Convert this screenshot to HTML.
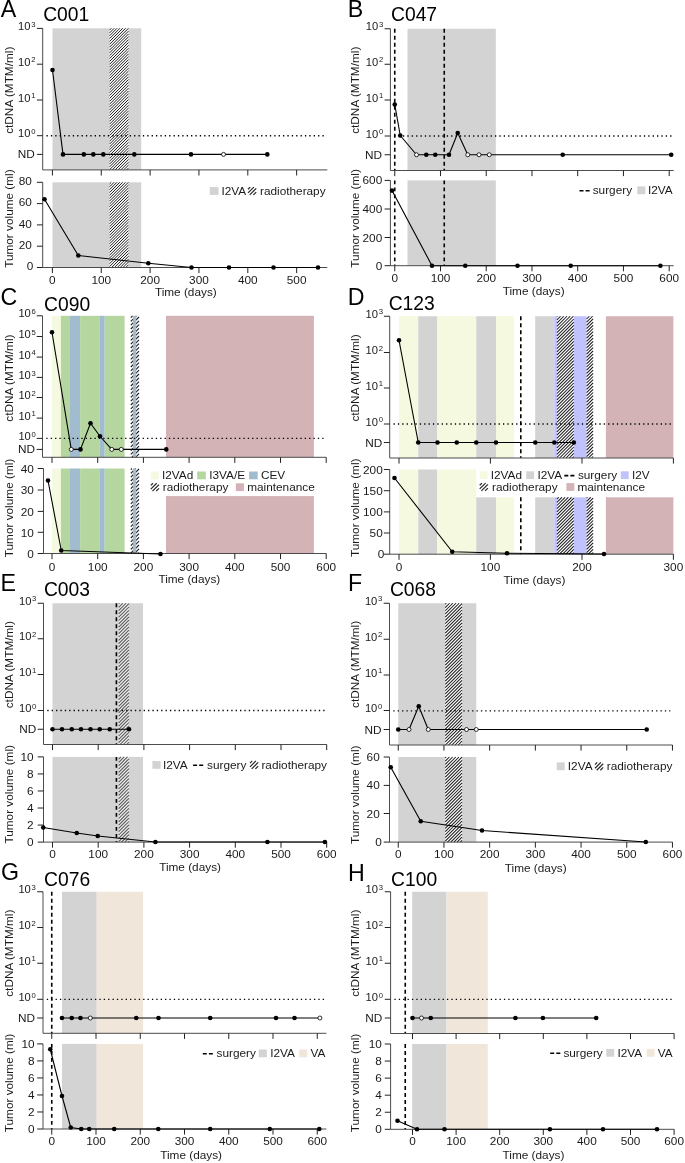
<!DOCTYPE html>
<html><head><meta charset="utf-8"><title>Figure</title>
<style>
html,body{margin:0;padding:0;background:#fff;}
body{width:685px;height:1163px;overflow:hidden;}
svg{display:block;font-family:"Liberation Sans", sans-serif;will-change:transform;}
</style></head><body>
<svg width="685" height="1163" viewBox="0 0 685 1163">
<rect width="685" height="1163" fill="#fff"/>
<defs>
<pattern id="h1" patternUnits="userSpaceOnUse" width="2.85" height="2.85">
<path d="M-0.7,0.7 L0.7,-0.7 M0,2.85 L2.85,0 M2.15,3.55 L3.55,2.15" stroke="#1a1a1a" stroke-width="0.95"/>
</pattern>
<pattern id="h2" patternUnits="userSpaceOnUse" width="3.3" height="3.3">
<path d="M-0.7,0.7 L0.7,-0.7 M0,3.3 L3.3,0 M2.6,4 L4,2.6" stroke="#555" stroke-width="0.8"/>
</pattern>
</defs>
<text transform="translate(0.8,17.3)" font-size="23.2" text-anchor="start" fill="#000">A</text>
<text transform="translate(43.2,20.9)" font-size="19.3" text-anchor="start" fill="#000">C001</text>
<rect x="52.5" y="28.3" width="88.7" height="141.6" fill="#d3d3d3"/>
<rect x="52.5" y="182.3" width="88.7" height="85.2" fill="#d3d3d3"/>
<rect x="109.6" y="28.3" width="18.9" height="141.6" fill="#fff"/>
<path d="M109.6,30.05L111.35,28.3M109.6,32.9L114.2,28.3M109.6,35.75L117.05,28.3M109.6,38.6L119.9,28.3M109.6,41.45L122.75,28.3M109.6,44.3L125.6,28.3M109.6,47.15L128.45,28.3M109.6,50L128.5,31.1M109.6,52.85L128.5,33.95M109.6,55.7L128.5,36.8M109.6,58.55L128.5,39.65M109.6,61.4L128.5,42.5M109.6,64.25L128.5,45.35M109.6,67.1L128.5,48.2M109.6,69.95L128.5,51.05M109.6,72.8L128.5,53.9M109.6,75.65L128.5,56.75M109.6,78.5L128.5,59.6M109.6,81.35L128.5,62.45M109.6,84.2L128.5,65.3M109.6,87.05L128.5,68.15M109.6,89.9L128.5,71M109.6,92.75L128.5,73.85M109.6,95.6L128.5,76.7M109.6,98.45L128.5,79.55M109.6,101.3L128.5,82.4M109.6,104.15L128.5,85.25M109.6,107L128.5,88.1M109.6,109.85L128.5,90.95M109.6,112.7L128.5,93.8M109.6,115.55L128.5,96.65M109.6,118.4L128.5,99.5M109.6,121.25L128.5,102.35M109.6,124.1L128.5,105.2M109.6,126.95L128.5,108.05M109.6,129.8L128.5,110.9M109.6,132.65L128.5,113.75M109.6,135.5L128.5,116.6M109.6,138.35L128.5,119.45M109.6,141.2L128.5,122.3M109.6,144.05L128.5,125.15M109.6,146.9L128.5,128M109.6,149.75L128.5,130.85M109.6,152.6L128.5,133.7M109.6,155.45L128.5,136.55M109.6,158.3L128.5,139.4M109.6,161.15L128.5,142.25M109.6,164L128.5,145.1M109.6,166.85L128.5,147.95M109.6,169.7L128.5,150.8M112.25,169.9L128.5,153.65M115.1,169.9L128.5,156.5M117.95,169.9L128.5,159.35M120.8,169.9L128.5,162.2M123.65,169.9L128.5,165.05M126.5,169.9L128.5,167.9" stroke="#1a1a1a" stroke-width="1" fill="none"/>
<rect x="109.6" y="182.3" width="18.9" height="85.2" fill="#fff"/>
<path d="M109.6,183.95L111.25,182.3M109.6,186.8L114.1,182.3M109.6,189.65L116.95,182.3M109.6,192.5L119.8,182.3M109.6,195.35L122.65,182.3M109.6,198.2L125.5,182.3M109.6,201.05L128.35,182.3M109.6,203.9L128.5,185M109.6,206.75L128.5,187.85M109.6,209.6L128.5,190.7M109.6,212.45L128.5,193.55M109.6,215.3L128.5,196.4M109.6,218.15L128.5,199.25M109.6,221L128.5,202.1M109.6,223.85L128.5,204.95M109.6,226.7L128.5,207.8M109.6,229.55L128.5,210.65M109.6,232.4L128.5,213.5M109.6,235.25L128.5,216.35M109.6,238.1L128.5,219.2M109.6,240.95L128.5,222.05M109.6,243.8L128.5,224.9M109.6,246.65L128.5,227.75M109.6,249.5L128.5,230.6M109.6,252.35L128.5,233.45M109.6,255.2L128.5,236.3M109.6,258.05L128.5,239.15M109.6,260.9L128.5,242M109.6,263.75L128.5,244.85M109.6,266.6L128.5,247.7M111.55,267.5L128.5,250.55M114.4,267.5L128.5,253.4M117.25,267.5L128.5,256.25M120.1,267.5L128.5,259.1M122.95,267.5L128.5,261.95M125.8,267.5L128.5,264.8" stroke="#1a1a1a" stroke-width="1" fill="none"/>
<line x1="46.5" y1="135.7" x2="324.5" y2="135.7" stroke="#000" stroke-width="1.35" stroke-linecap="butt" stroke-dasharray="1.3,3.08"/>
<path d="M42.7,28.3 V169.9 H327.3" fill="none" stroke="#4c4c4c" stroke-width="1.0" stroke-linejoin="round"/>
<path d="M42.7,182.3 V267.5 H327.3" fill="none" stroke="#4c4c4c" stroke-width="1.0" stroke-linejoin="round"/>
<line x1="36.9" y1="28.4" x2="42.7" y2="28.4" stroke="#222222" stroke-width="1" stroke-linecap="butt"/>
<line x1="36.9" y1="64.2" x2="42.7" y2="64.2" stroke="#222222" stroke-width="1" stroke-linecap="butt"/>
<line x1="36.9" y1="100" x2="42.7" y2="100" stroke="#222222" stroke-width="1" stroke-linecap="butt"/>
<line x1="36.9" y1="135.7" x2="42.7" y2="135.7" stroke="#222222" stroke-width="1" stroke-linecap="butt"/>
<line x1="36.9" y1="154.4" x2="42.7" y2="154.4" stroke="#222222" stroke-width="1" stroke-linecap="butt"/>
<line x1="36.9" y1="182.3" x2="42.7" y2="182.3" stroke="#222222" stroke-width="1" stroke-linecap="butt"/>
<line x1="36.9" y1="203.6" x2="42.7" y2="203.6" stroke="#222222" stroke-width="1" stroke-linecap="butt"/>
<line x1="36.9" y1="224.9" x2="42.7" y2="224.9" stroke="#222222" stroke-width="1" stroke-linecap="butt"/>
<line x1="36.9" y1="246.2" x2="42.7" y2="246.2" stroke="#222222" stroke-width="1" stroke-linecap="butt"/>
<line x1="36.9" y1="267.5" x2="42.7" y2="267.5" stroke="#222222" stroke-width="1" stroke-linecap="butt"/>
<line x1="52.4" y1="169.9" x2="52.4" y2="175.5" stroke="#222222" stroke-width="1" stroke-linecap="butt"/>
<line x1="52.4" y1="267.5" x2="52.4" y2="273.1" stroke="#222222" stroke-width="1" stroke-linecap="butt"/>
<line x1="101.25" y1="169.9" x2="101.25" y2="175.5" stroke="#222222" stroke-width="1" stroke-linecap="butt"/>
<line x1="101.25" y1="267.5" x2="101.25" y2="273.1" stroke="#222222" stroke-width="1" stroke-linecap="butt"/>
<line x1="150.1" y1="169.9" x2="150.1" y2="175.5" stroke="#222222" stroke-width="1" stroke-linecap="butt"/>
<line x1="150.1" y1="267.5" x2="150.1" y2="273.1" stroke="#222222" stroke-width="1" stroke-linecap="butt"/>
<line x1="198.95" y1="169.9" x2="198.95" y2="175.5" stroke="#222222" stroke-width="1" stroke-linecap="butt"/>
<line x1="198.95" y1="267.5" x2="198.95" y2="273.1" stroke="#222222" stroke-width="1" stroke-linecap="butt"/>
<line x1="247.8" y1="169.9" x2="247.8" y2="175.5" stroke="#222222" stroke-width="1" stroke-linecap="butt"/>
<line x1="247.8" y1="267.5" x2="247.8" y2="273.1" stroke="#222222" stroke-width="1" stroke-linecap="butt"/>
<line x1="296.65" y1="169.9" x2="296.65" y2="175.5" stroke="#222222" stroke-width="1" stroke-linecap="butt"/>
<line x1="296.65" y1="267.5" x2="296.65" y2="273.1" stroke="#222222" stroke-width="1" stroke-linecap="butt"/>
<polyline points="52.5,70 63,154.4 83.8,154.4 93.3,154.4 103.3,154.4 134.3,154.4 191,154.4 223.5,154.4 267.3,154.4" fill="none" stroke="#000" stroke-width="1.1" stroke-linejoin="round"/>
<circle cx="52.5" cy="70" r="2.3" fill="#000"/>
<circle cx="63" cy="154.4" r="2.3" fill="#000"/>
<circle cx="83.8" cy="154.4" r="2.3" fill="#000"/>
<circle cx="93.3" cy="154.4" r="2.3" fill="#000"/>
<circle cx="103.3" cy="154.4" r="2.3" fill="#000"/>
<circle cx="134.3" cy="154.4" r="2.3" fill="#000"/>
<circle cx="191" cy="154.4" r="2.3" fill="#000"/>
<circle cx="223.5" cy="154.4" r="2" fill="#fff" stroke="#000" stroke-width="0.8"/>
<circle cx="267.3" cy="154.4" r="2.3" fill="#000"/>
<polyline points="44.5,199.3 78.3,255.5 148.3,263.2 191.5,267.5 229,267.5 273.5,267.5 318,267.5" fill="none" stroke="#000" stroke-width="1.1" stroke-linejoin="round"/>
<circle cx="44.5" cy="199.3" r="2.3" fill="#000"/>
<circle cx="78.3" cy="255.5" r="2.3" fill="#000"/>
<circle cx="148.3" cy="263.2" r="2.3" fill="#000"/>
<circle cx="191.5" cy="267.5" r="2.3" fill="#000"/>
<circle cx="229" cy="267.5" r="2.3" fill="#000"/>
<circle cx="273.5" cy="267.5" r="2.3" fill="#000"/>
<circle cx="318" cy="267.5" r="2.3" fill="#000"/>
<text transform="translate(35.5,30)" font-size="11.2" text-anchor="end" fill="#1a1a1a">10<tspan font-size="7.7" dx="0.7" dy="-3.4">3</tspan></text>
<text transform="translate(35.5,65.8)" font-size="11.2" text-anchor="end" fill="#1a1a1a">10<tspan font-size="7.7" dx="0.7" dy="-3.4">2</tspan></text>
<text transform="translate(35.5,101.6)" font-size="11.2" text-anchor="end" fill="#1a1a1a">10<tspan font-size="7.7" dx="0.7" dy="-3.4">1</tspan></text>
<text transform="translate(35.5,137.3)" font-size="11.2" text-anchor="end" fill="#1a1a1a">10<tspan font-size="7.7" dx="0.7" dy="-3.4">0</tspan></text>
<text transform="translate(34.8,158.4)" font-size="11.8" text-anchor="end" fill="#1a1a1a">ND</text>
<text transform="translate(31.8,185.1)" font-size="11.8" text-anchor="end" fill="#1a1a1a">80</text>
<text transform="translate(31.8,206.4)" font-size="11.8" text-anchor="end" fill="#1a1a1a">60</text>
<text transform="translate(31.8,227.7)" font-size="11.8" text-anchor="end" fill="#1a1a1a">40</text>
<text transform="translate(31.8,249)" font-size="11.8" text-anchor="end" fill="#1a1a1a">20</text>
<text transform="translate(33.3,270.3)" font-size="11.8" text-anchor="end" fill="#1a1a1a">0</text>
<text transform="translate(52.4,283.8)" font-size="11.8" text-anchor="middle" fill="#1a1a1a">0</text>
<text transform="translate(101.25,283.8)" font-size="11.8" text-anchor="middle" fill="#1a1a1a">100</text>
<text transform="translate(150.1,283.8)" font-size="11.8" text-anchor="middle" fill="#1a1a1a">200</text>
<text transform="translate(198.95,283.8)" font-size="11.8" text-anchor="middle" fill="#1a1a1a">300</text>
<text transform="translate(247.8,283.8)" font-size="11.8" text-anchor="middle" fill="#1a1a1a">400</text>
<text transform="translate(296.65,283.8)" font-size="11.8" text-anchor="middle" fill="#1a1a1a">500</text>
<text transform="translate(185.8,296)" font-size="11.8" text-anchor="middle" fill="#1a1a1a">Time (days)</text>
<text transform="translate(13.2,90.25) rotate(-90)" font-size="11.8" text-anchor="middle" fill="#1a1a1a">ctDNA (MTM/ml)</text>
<text transform="translate(13.2,218.6) rotate(-90)" font-size="11.8" text-anchor="middle" fill="#1a1a1a">Tumor volume (ml)</text>
<rect x="209.8" y="187.1" width="8.7" height="7.8" fill="#d3d3d3"/>
<text transform="translate(221.4,194.9)" font-size="11.8" text-anchor="start" fill="#1a1a1a">I2VA</text>
<path d="M248,189.25L250.2,187.05M248,192.95L253.9,187.05M249.7,194.95L256.2,188.45M253.4,194.95L256.2,192.15" stroke="#262626" stroke-width="1.2" fill="none"/>
<text transform="translate(260,194.9)" font-size="11.8" text-anchor="start" fill="#1a1a1a">radiotherapy</text>
<text transform="translate(347.75,17.1)" font-size="23.2" text-anchor="start" fill="#000">B</text>
<text transform="translate(391,20.9)" font-size="19.3" text-anchor="start" fill="#000">C047</text>
<rect x="407.5" y="28.75" width="88.3" height="141.75" fill="#d3d3d3"/>
<rect x="407.5" y="180.4" width="88.3" height="85.3" fill="#d3d3d3"/>
<line x1="394.2" y1="136" x2="672.5" y2="136" stroke="#000" stroke-width="1.35" stroke-linecap="butt" stroke-dasharray="1.3,3.08"/>
<line x1="394.75" y1="28.75" x2="394.75" y2="170.5" stroke="#000" stroke-width="1.6" stroke-linecap="butt" stroke-dasharray="3.9,3.1"/>
<line x1="394.75" y1="180.4" x2="394.75" y2="265.7" stroke="#000" stroke-width="1.6" stroke-linecap="butt" stroke-dasharray="3.9,3.1"/>
<line x1="444.25" y1="28.75" x2="444.25" y2="170.5" stroke="#000" stroke-width="1.6" stroke-linecap="butt" stroke-dasharray="3.9,3.1"/>
<line x1="444.25" y1="180.4" x2="444.25" y2="265.7" stroke="#000" stroke-width="1.6" stroke-linecap="butt" stroke-dasharray="3.9,3.1"/>
<path d="M390.4,28.75 V170.5 H673.7" fill="none" stroke="#4c4c4c" stroke-width="1.0" stroke-linejoin="round"/>
<path d="M390.4,180.4 V265.7 H673.7" fill="none" stroke="#4c4c4c" stroke-width="1.0" stroke-linejoin="round"/>
<line x1="384.6" y1="28.75" x2="390.4" y2="28.75" stroke="#222222" stroke-width="1" stroke-linecap="butt"/>
<line x1="384.6" y1="64.25" x2="390.4" y2="64.25" stroke="#222222" stroke-width="1" stroke-linecap="butt"/>
<line x1="384.6" y1="100" x2="390.4" y2="100" stroke="#222222" stroke-width="1" stroke-linecap="butt"/>
<line x1="384.6" y1="136" x2="390.4" y2="136" stroke="#222222" stroke-width="1" stroke-linecap="butt"/>
<line x1="384.6" y1="154.75" x2="390.4" y2="154.75" stroke="#222222" stroke-width="1" stroke-linecap="butt"/>
<line x1="384.6" y1="180.4" x2="390.4" y2="180.4" stroke="#222222" stroke-width="1" stroke-linecap="butt"/>
<line x1="384.6" y1="209" x2="390.4" y2="209" stroke="#222222" stroke-width="1" stroke-linecap="butt"/>
<line x1="384.6" y1="237.5" x2="390.4" y2="237.5" stroke="#222222" stroke-width="1" stroke-linecap="butt"/>
<line x1="384.6" y1="265.7" x2="390.4" y2="265.7" stroke="#222222" stroke-width="1" stroke-linecap="butt"/>
<line x1="394.75" y1="170.5" x2="394.75" y2="176.1" stroke="#222222" stroke-width="1" stroke-linecap="butt"/>
<line x1="394.75" y1="265.7" x2="394.75" y2="271.3" stroke="#222222" stroke-width="1" stroke-linecap="butt"/>
<line x1="440.49" y1="170.5" x2="440.49" y2="176.1" stroke="#222222" stroke-width="1" stroke-linecap="butt"/>
<line x1="440.49" y1="265.7" x2="440.49" y2="271.3" stroke="#222222" stroke-width="1" stroke-linecap="butt"/>
<line x1="486.23" y1="170.5" x2="486.23" y2="176.1" stroke="#222222" stroke-width="1" stroke-linecap="butt"/>
<line x1="486.23" y1="265.7" x2="486.23" y2="271.3" stroke="#222222" stroke-width="1" stroke-linecap="butt"/>
<line x1="531.97" y1="170.5" x2="531.97" y2="176.1" stroke="#222222" stroke-width="1" stroke-linecap="butt"/>
<line x1="531.97" y1="265.7" x2="531.97" y2="271.3" stroke="#222222" stroke-width="1" stroke-linecap="butt"/>
<line x1="577.71" y1="170.5" x2="577.71" y2="176.1" stroke="#222222" stroke-width="1" stroke-linecap="butt"/>
<line x1="577.71" y1="265.7" x2="577.71" y2="271.3" stroke="#222222" stroke-width="1" stroke-linecap="butt"/>
<line x1="623.45" y1="170.5" x2="623.45" y2="176.1" stroke="#222222" stroke-width="1" stroke-linecap="butt"/>
<line x1="623.45" y1="265.7" x2="623.45" y2="271.3" stroke="#222222" stroke-width="1" stroke-linecap="butt"/>
<line x1="669.19" y1="170.5" x2="669.19" y2="176.1" stroke="#222222" stroke-width="1" stroke-linecap="butt"/>
<line x1="669.19" y1="265.7" x2="669.19" y2="271.3" stroke="#222222" stroke-width="1" stroke-linecap="butt"/>
<polyline points="394.75,104.5 400.25,135.5 416.5,154.75 426.25,154.75 435.25,154.75 449,154.75 457.75,133 467.75,154.75 479,154.75 489.25,154.75 562.7,154.75 671.2,154.75" fill="none" stroke="#000" stroke-width="1.1" stroke-linejoin="round"/>
<circle cx="394.75" cy="104.5" r="2.3" fill="#000"/>
<circle cx="400.25" cy="135.5" r="2.3" fill="#000"/>
<circle cx="416.5" cy="154.75" r="2" fill="#fff" stroke="#000" stroke-width="0.8"/>
<circle cx="426.25" cy="154.75" r="2.3" fill="#000"/>
<circle cx="435.25" cy="154.75" r="2.3" fill="#000"/>
<circle cx="449" cy="154.75" r="2.3" fill="#000"/>
<circle cx="457.75" cy="133" r="2.3" fill="#000"/>
<circle cx="467.75" cy="154.75" r="2" fill="#fff" stroke="#000" stroke-width="0.8"/>
<circle cx="479" cy="154.75" r="2" fill="#fff" stroke="#000" stroke-width="0.8"/>
<circle cx="489.25" cy="154.75" r="2" fill="#fff" stroke="#000" stroke-width="0.8"/>
<circle cx="562.7" cy="154.75" r="2.3" fill="#000"/>
<circle cx="671.2" cy="154.75" r="2.3" fill="#000"/>
<polyline points="392,190.6 432,265.7 465.25,265.7 517.5,265.7 570.7,265.7 660.4,265.7" fill="none" stroke="#000" stroke-width="1.1" stroke-linejoin="round"/>
<circle cx="392" cy="190.6" r="2.3" fill="#000"/>
<circle cx="432" cy="265.7" r="2.3" fill="#000"/>
<circle cx="465.25" cy="265.7" r="2.3" fill="#000"/>
<circle cx="517.5" cy="265.7" r="2.3" fill="#000"/>
<circle cx="570.7" cy="265.7" r="2.3" fill="#000"/>
<circle cx="660.4" cy="265.7" r="2.3" fill="#000"/>
<text transform="translate(383.2,30.35)" font-size="11.2" text-anchor="end" fill="#1a1a1a">10<tspan font-size="7.7" dx="0.7" dy="-3.4">3</tspan></text>
<text transform="translate(383.2,65.85)" font-size="11.2" text-anchor="end" fill="#1a1a1a">10<tspan font-size="7.7" dx="0.7" dy="-3.4">2</tspan></text>
<text transform="translate(383.2,101.6)" font-size="11.2" text-anchor="end" fill="#1a1a1a">10<tspan font-size="7.7" dx="0.7" dy="-3.4">1</tspan></text>
<text transform="translate(383.2,137.6)" font-size="11.2" text-anchor="end" fill="#1a1a1a">10<tspan font-size="7.7" dx="0.7" dy="-3.4">0</tspan></text>
<text transform="translate(382.1,158.75)" font-size="11.8" text-anchor="end" fill="#1a1a1a">ND</text>
<text transform="translate(382.2,184.4)" font-size="11.8" text-anchor="end" fill="#1a1a1a">600</text>
<text transform="translate(382.2,213)" font-size="11.8" text-anchor="end" fill="#1a1a1a">400</text>
<text transform="translate(382.2,241.5)" font-size="11.8" text-anchor="end" fill="#1a1a1a">200</text>
<text transform="translate(382.2,269.7)" font-size="11.8" text-anchor="end" fill="#1a1a1a">0</text>
<text transform="translate(394.75,282.4)" font-size="11.8" text-anchor="middle" fill="#1a1a1a">0</text>
<text transform="translate(440.49,282.4)" font-size="11.8" text-anchor="middle" fill="#1a1a1a">100</text>
<text transform="translate(486.23,282.4)" font-size="11.8" text-anchor="middle" fill="#1a1a1a">200</text>
<text transform="translate(531.97,282.4)" font-size="11.8" text-anchor="middle" fill="#1a1a1a">300</text>
<text transform="translate(577.71,282.4)" font-size="11.8" text-anchor="middle" fill="#1a1a1a">400</text>
<text transform="translate(623.45,282.4)" font-size="11.8" text-anchor="middle" fill="#1a1a1a">500</text>
<text transform="translate(669.19,282.4)" font-size="11.8" text-anchor="middle" fill="#1a1a1a">600</text>
<text transform="translate(533.65,295.4)" font-size="11.8" text-anchor="middle" fill="#1a1a1a">Time (days)</text>
<text transform="translate(358.8,90.25) rotate(-90)" font-size="11.8" text-anchor="middle" fill="#1a1a1a">ctDNA (MTM/ml)</text>
<text transform="translate(358.8,218.4) rotate(-90)" font-size="11.8" text-anchor="middle" fill="#1a1a1a">Tumor volume (ml)</text>
<line x1="579.5" y1="190.7" x2="589.6" y2="190.7" stroke="#000" stroke-width="1.6" stroke-linecap="butt" stroke-dasharray="4,2.1"/>
<text transform="translate(592.7,194.2)" font-size="11.8" text-anchor="start" fill="#1a1a1a">surgery</text>
<rect x="637.3" y="186.4" width="8" height="7.8" fill="#d3d3d3"/>
<text transform="translate(647.9,194.2)" font-size="11.8" text-anchor="start" fill="#1a1a1a">I2VA</text>
<text transform="translate(0.55,305.2)" font-size="23.2" text-anchor="start" fill="#000">C</text>
<text transform="translate(44.1,311)" font-size="19.3" text-anchor="start" fill="#000">C090</text>
<rect x="52" y="315.8" width="8.9" height="141.5" fill="#f5f9e0"/>
<rect x="52" y="468.5" width="8.9" height="85" fill="#f5f9e0"/>
<rect x="60.9" y="315.8" width="9.1" height="141.5" fill="#b6d6a0"/>
<rect x="60.9" y="468.5" width="9.1" height="85" fill="#b6d6a0"/>
<rect x="70" y="315.8" width="10.1" height="141.5" fill="#a2bccf"/>
<rect x="70" y="468.5" width="10.1" height="85" fill="#a2bccf"/>
<rect x="80.1" y="315.8" width="19.3" height="141.5" fill="#b6d6a0"/>
<rect x="80.1" y="468.5" width="19.3" height="85" fill="#b6d6a0"/>
<rect x="99.4" y="315.8" width="5.3" height="141.5" fill="#a2bccf"/>
<rect x="99.4" y="468.5" width="5.3" height="85" fill="#a2bccf"/>
<rect x="104.7" y="315.8" width="19.9" height="141.5" fill="#b6d6a0"/>
<rect x="104.7" y="468.5" width="19.9" height="85" fill="#b6d6a0"/>
<rect x="130.8" y="315.8" width="8.2" height="141.5" fill="#fff"/>
<path d="M130.8,317.6L132.6,315.8M130.8,321.4L136.4,315.8M130.8,325.2L139,317M130.8,329L139,320.8M130.8,332.8L139,324.6M130.8,336.6L139,328.4M130.8,340.4L139,332.2M130.8,344.2L139,336M130.8,348L139,339.8M130.8,351.8L139,343.6M130.8,355.6L139,347.4M130.8,359.4L139,351.2M130.8,363.2L139,355M130.8,367L139,358.8M130.8,370.8L139,362.6M130.8,374.6L139,366.4M130.8,378.4L139,370.2M130.8,382.2L139,374M130.8,386L139,377.8M130.8,389.8L139,381.6M130.8,393.6L139,385.4M130.8,397.4L139,389.2M130.8,401.2L139,393M130.8,405L139,396.8M130.8,408.8L139,400.6M130.8,412.6L139,404.4M130.8,416.4L139,408.2M130.8,420.2L139,412M130.8,424L139,415.8M130.8,427.8L139,419.6M130.8,431.6L139,423.4M130.8,435.4L139,427.2M130.8,439.2L139,431M130.8,443L139,434.8M130.8,446.8L139,438.6M130.8,450.6L139,442.4M130.8,454.4L139,446.2M131.7,457.3L139,450M135.5,457.3L139,453.8" stroke="#1a1a1a" stroke-width="1.1" fill="none"/>
<rect x="130.8" y="468.5" width="8.2" height="85" fill="#fff"/>
<path d="M130.8,469.6L131.9,468.5M130.8,473.4L135.7,468.5M130.8,477.2L139,469M130.8,481L139,472.8M130.8,484.8L139,476.6M130.8,488.6L139,480.4M130.8,492.4L139,484.2M130.8,496.2L139,488M130.8,500L139,491.8M130.8,503.8L139,495.6M130.8,507.6L139,499.4M130.8,511.4L139,503.2M130.8,515.2L139,507M130.8,519L139,510.8M130.8,522.8L139,514.6M130.8,526.6L139,518.4M130.8,530.4L139,522.2M130.8,534.2L139,526M130.8,538L139,529.8M130.8,541.8L139,533.6M130.8,545.6L139,537.4M130.8,549.4L139,541.2M130.8,553.2L139,545M134.3,553.5L139,548.8M138.1,553.5L139,552.6" stroke="#1a1a1a" stroke-width="1.1" fill="none"/>
<rect x="132.9" y="315.8" width="3.3" height="141.5" fill="#a2bccf"/>
<rect x="132.9" y="468.5" width="3.3" height="85" fill="#a2bccf"/>
<rect x="166" y="315.8" width="147.9" height="141.5" fill="#d3b3b5"/>
<rect x="166" y="496.1" width="147.9" height="57.4" fill="#d3b3b5"/>
<line x1="46.3" y1="438.4" x2="324" y2="438.4" stroke="#000" stroke-width="1.35" stroke-linecap="butt" stroke-dasharray="1.3,3.08"/>
<path d="M42.5,315.8 V457.3 H326.2" fill="none" stroke="#4c4c4c" stroke-width="1.0" stroke-linejoin="round"/>
<path d="M43.5,468.5 V553.5 H326.2" fill="none" stroke="#4c4c4c" stroke-width="1.0" stroke-linejoin="round"/>
<line x1="36.7" y1="315.8" x2="42.5" y2="315.8" stroke="#222222" stroke-width="1" stroke-linecap="butt"/>
<line x1="36.7" y1="336.5" x2="42.5" y2="336.5" stroke="#222222" stroke-width="1" stroke-linecap="butt"/>
<line x1="36.7" y1="357.1" x2="42.5" y2="357.1" stroke="#222222" stroke-width="1" stroke-linecap="butt"/>
<line x1="36.7" y1="377.4" x2="42.5" y2="377.4" stroke="#222222" stroke-width="1" stroke-linecap="butt"/>
<line x1="36.7" y1="397.5" x2="42.5" y2="397.5" stroke="#222222" stroke-width="1" stroke-linecap="butt"/>
<line x1="36.7" y1="418.1" x2="42.5" y2="418.1" stroke="#222222" stroke-width="1" stroke-linecap="butt"/>
<line x1="36.7" y1="438.4" x2="42.5" y2="438.4" stroke="#222222" stroke-width="1" stroke-linecap="butt"/>
<line x1="36.7" y1="449.4" x2="42.5" y2="449.4" stroke="#222222" stroke-width="1" stroke-linecap="butt"/>
<line x1="37.7" y1="468.5" x2="43.5" y2="468.5" stroke="#222222" stroke-width="1" stroke-linecap="butt"/>
<line x1="37.7" y1="490" x2="43.5" y2="490" stroke="#222222" stroke-width="1" stroke-linecap="butt"/>
<line x1="37.7" y1="511.4" x2="43.5" y2="511.4" stroke="#222222" stroke-width="1" stroke-linecap="butt"/>
<line x1="37.7" y1="532.3" x2="43.5" y2="532.3" stroke="#222222" stroke-width="1" stroke-linecap="butt"/>
<line x1="37.7" y1="553.5" x2="43.5" y2="553.5" stroke="#222222" stroke-width="1" stroke-linecap="butt"/>
<line x1="52" y1="457.3" x2="52" y2="462.9" stroke="#222222" stroke-width="1" stroke-linecap="butt"/>
<line x1="52" y1="553.5" x2="52" y2="559.1" stroke="#222222" stroke-width="1" stroke-linecap="butt"/>
<line x1="97.7" y1="457.3" x2="97.7" y2="462.9" stroke="#222222" stroke-width="1" stroke-linecap="butt"/>
<line x1="97.7" y1="553.5" x2="97.7" y2="559.1" stroke="#222222" stroke-width="1" stroke-linecap="butt"/>
<line x1="143.4" y1="457.3" x2="143.4" y2="462.9" stroke="#222222" stroke-width="1" stroke-linecap="butt"/>
<line x1="143.4" y1="553.5" x2="143.4" y2="559.1" stroke="#222222" stroke-width="1" stroke-linecap="butt"/>
<line x1="189.1" y1="457.3" x2="189.1" y2="462.9" stroke="#222222" stroke-width="1" stroke-linecap="butt"/>
<line x1="189.1" y1="553.5" x2="189.1" y2="559.1" stroke="#222222" stroke-width="1" stroke-linecap="butt"/>
<line x1="234.8" y1="457.3" x2="234.8" y2="462.9" stroke="#222222" stroke-width="1" stroke-linecap="butt"/>
<line x1="234.8" y1="553.5" x2="234.8" y2="559.1" stroke="#222222" stroke-width="1" stroke-linecap="butt"/>
<line x1="280.5" y1="457.3" x2="280.5" y2="462.9" stroke="#222222" stroke-width="1" stroke-linecap="butt"/>
<line x1="280.5" y1="553.5" x2="280.5" y2="559.1" stroke="#222222" stroke-width="1" stroke-linecap="butt"/>
<line x1="326.2" y1="457.3" x2="326.2" y2="462.9" stroke="#222222" stroke-width="1" stroke-linecap="butt"/>
<line x1="326.2" y1="553.5" x2="326.2" y2="559.1" stroke="#222222" stroke-width="1" stroke-linecap="butt"/>
<polyline points="52,332.25 71.25,449.4 80.5,449.4 90.5,423.25 100,436.25 111.75,449.4 121.25,449.4 166.25,449.4" fill="none" stroke="#000" stroke-width="1.1" stroke-linejoin="round"/>
<circle cx="52" cy="332.25" r="2.3" fill="#000"/>
<circle cx="71.25" cy="449.4" r="2" fill="#fff" stroke="#000" stroke-width="0.8"/>
<circle cx="80.5" cy="449.4" r="2.3" fill="#000"/>
<circle cx="90.5" cy="423.25" r="2.3" fill="#000"/>
<circle cx="100" cy="436.25" r="2.3" fill="#000"/>
<circle cx="111.75" cy="449.4" r="2" fill="#fff" stroke="#000" stroke-width="0.8"/>
<circle cx="121.25" cy="449.4" r="2" fill="#fff" stroke="#000" stroke-width="0.8"/>
<circle cx="166.25" cy="449.4" r="2.3" fill="#000"/>
<polyline points="48,480.5 61.25,550.5 160.5,554" fill="none" stroke="#000" stroke-width="1.1" stroke-linejoin="round"/>
<circle cx="48" cy="480.5" r="2.3" fill="#000"/>
<circle cx="61.25" cy="550.5" r="2.3" fill="#000"/>
<circle cx="160.5" cy="554" r="2.3" fill="#000"/>
<text transform="translate(35.8,317.4)" font-size="11.2" text-anchor="end" fill="#1a1a1a">10<tspan font-size="7.7" dx="0.7" dy="-3.4">6</tspan></text>
<text transform="translate(35.8,338.1)" font-size="11.2" text-anchor="end" fill="#1a1a1a">10<tspan font-size="7.7" dx="0.7" dy="-3.4">5</tspan></text>
<text transform="translate(35.8,358.7)" font-size="11.2" text-anchor="end" fill="#1a1a1a">10<tspan font-size="7.7" dx="0.7" dy="-3.4">4</tspan></text>
<text transform="translate(35.8,379)" font-size="11.2" text-anchor="end" fill="#1a1a1a">10<tspan font-size="7.7" dx="0.7" dy="-3.4">3</tspan></text>
<text transform="translate(35.8,399.1)" font-size="11.2" text-anchor="end" fill="#1a1a1a">10<tspan font-size="7.7" dx="0.7" dy="-3.4">2</tspan></text>
<text transform="translate(35.8,419.7)" font-size="11.2" text-anchor="end" fill="#1a1a1a">10<tspan font-size="7.7" dx="0.7" dy="-3.4">1</tspan></text>
<text transform="translate(35.8,440)" font-size="11.2" text-anchor="end" fill="#1a1a1a">10<tspan font-size="7.7" dx="0.7" dy="-3.4">0</tspan></text>
<text transform="translate(35.1,453.4)" font-size="11.8" text-anchor="end" fill="#1a1a1a">ND</text>
<text transform="translate(33.8,472.8)" font-size="11.8" text-anchor="end" fill="#1a1a1a">40</text>
<text transform="translate(33.8,494.3)" font-size="11.8" text-anchor="end" fill="#1a1a1a">30</text>
<text transform="translate(33.8,515.7)" font-size="11.8" text-anchor="end" fill="#1a1a1a">20</text>
<text transform="translate(33.8,536.6)" font-size="11.8" text-anchor="end" fill="#1a1a1a">10</text>
<text transform="translate(33.8,557.8)" font-size="11.8" text-anchor="end" fill="#1a1a1a">0</text>
<text transform="translate(52,570.5)" font-size="11.8" text-anchor="middle" fill="#1a1a1a">0</text>
<text transform="translate(97.7,570.5)" font-size="11.8" text-anchor="middle" fill="#1a1a1a">100</text>
<text transform="translate(143.4,570.5)" font-size="11.8" text-anchor="middle" fill="#1a1a1a">200</text>
<text transform="translate(189.1,570.5)" font-size="11.8" text-anchor="middle" fill="#1a1a1a">300</text>
<text transform="translate(234.8,570.5)" font-size="11.8" text-anchor="middle" fill="#1a1a1a">400</text>
<text transform="translate(280.5,570.5)" font-size="11.8" text-anchor="middle" fill="#1a1a1a">500</text>
<text transform="translate(326.2,570.5)" font-size="11.8" text-anchor="middle" fill="#1a1a1a">600</text>
<text transform="translate(189.3,583.4)" font-size="11.8" text-anchor="middle" fill="#1a1a1a">Time (days)</text>
<text transform="translate(13.2,378.1) rotate(-90)" font-size="11.8" text-anchor="middle" fill="#1a1a1a">ctDNA (MTM/ml)</text>
<text transform="translate(13.2,508) rotate(-90)" font-size="11.8" text-anchor="middle" fill="#1a1a1a">Tumor volume (ml)</text>
<rect x="150.8" y="471.5" width="7.9" height="7.8" fill="#f5f9e0"/>
<text transform="translate(162,479.3)" font-size="11.8" text-anchor="start" fill="#1a1a1a">I2VAd</text>
<rect x="197.2" y="471.5" width="8.6" height="7.8" fill="#b6d6a0"/>
<text transform="translate(209.2,479.3)" font-size="11.8" text-anchor="start" fill="#1a1a1a">I3VA/E</text>
<rect x="249.1" y="471.5" width="8.6" height="7.8" fill="#a2bccf"/>
<text transform="translate(260.9,479.3)" font-size="11.8" text-anchor="start" fill="#1a1a1a">CEV</text>
<path d="M150.8,485.45L153,483.25M150.8,489.15L156.7,483.25M152.5,491.15L159,484.65M156.2,491.15L159,488.35" stroke="#262626" stroke-width="1.2" fill="none"/>
<text transform="translate(162.8,491.1)" font-size="11.8" text-anchor="start" fill="#1a1a1a">radiotherapy</text>
<rect x="235.8" y="483.3" width="8.1" height="7.8" fill="#d3b3b5"/>
<text transform="translate(247.2,491.1)" font-size="11.8" text-anchor="start" fill="#1a1a1a">maintenance</text>
<text transform="translate(347.75,305.1)" font-size="23.2" text-anchor="start" fill="#000">D</text>
<text transform="translate(388.7,310)" font-size="19.3" text-anchor="start" fill="#000">C123</text>
<rect x="399" y="316.25" width="19.25" height="141.75" fill="#f5f9e0"/>
<rect x="399" y="469.5" width="19.25" height="84.7" fill="#f5f9e0"/>
<rect x="418.25" y="316.25" width="19" height="141.75" fill="#d3d3d3"/>
<rect x="418.25" y="469.5" width="19" height="84.7" fill="#d3d3d3"/>
<rect x="437.25" y="316.25" width="39" height="141.75" fill="#f5f9e0"/>
<rect x="437.25" y="469.5" width="39" height="84.7" fill="#f5f9e0"/>
<rect x="476.25" y="316.25" width="19.75" height="141.75" fill="#d3d3d3"/>
<rect x="476.25" y="497.3" width="19.75" height="56.9" fill="#d3d3d3"/>
<rect x="496" y="316.25" width="18" height="141.75" fill="#f5f9e0"/>
<rect x="496" y="497.3" width="18" height="56.9" fill="#f5f9e0"/>
<rect x="535.2" y="316.25" width="19.1" height="141.75" fill="#d3d3d3"/>
<rect x="535.2" y="497.3" width="19.1" height="56.9" fill="#d3d3d3"/>
<rect x="554.3" y="316.25" width="38.8" height="141.75" fill="#c0c2fb"/>
<rect x="554.3" y="497.3" width="38.8" height="56.9" fill="#c0c2fb"/>
<rect x="556.9" y="316.25" width="16.9" height="141.75" fill="#fff"/>
<path d="M556.9,316.7L557.35,316.25M556.9,319.9L560.55,316.25M556.9,323.1L563.75,316.25M556.9,326.3L566.95,316.25M556.9,329.5L570.15,316.25M556.9,332.7L573.35,316.25M556.9,335.9L573.8,319M556.9,339.1L573.8,322.2M556.9,342.3L573.8,325.4M556.9,345.5L573.8,328.6M556.9,348.7L573.8,331.8M556.9,351.9L573.8,335M556.9,355.1L573.8,338.2M556.9,358.3L573.8,341.4M556.9,361.5L573.8,344.6M556.9,364.7L573.8,347.8M556.9,367.9L573.8,351M556.9,371.1L573.8,354.2M556.9,374.3L573.8,357.4M556.9,377.5L573.8,360.6M556.9,380.7L573.8,363.8M556.9,383.9L573.8,367M556.9,387.1L573.8,370.2M556.9,390.3L573.8,373.4M556.9,393.5L573.8,376.6M556.9,396.7L573.8,379.8M556.9,399.9L573.8,383M556.9,403.1L573.8,386.2M556.9,406.3L573.8,389.4M556.9,409.5L573.8,392.6M556.9,412.7L573.8,395.8M556.9,415.9L573.8,399M556.9,419.1L573.8,402.2M556.9,422.3L573.8,405.4M556.9,425.5L573.8,408.6M556.9,428.7L573.8,411.8M556.9,431.9L573.8,415M556.9,435.1L573.8,418.2M556.9,438.3L573.8,421.4M556.9,441.5L573.8,424.6M556.9,444.7L573.8,427.8M556.9,447.9L573.8,431M556.9,451.1L573.8,434.2M556.9,454.3L573.8,437.4M556.9,457.5L573.8,440.6M559.6,458L573.8,443.8M562.8,458L573.8,447M566,458L573.8,450.2M569.2,458L573.8,453.4M572.4,458L573.8,456.6" stroke="#1a1a1a" stroke-width="1.05" fill="none"/>
<rect x="556.9" y="497.3" width="16.9" height="56.9" fill="#fff"/>
<path d="M556.9,499.1L558.7,497.3M556.9,502.3L561.9,497.3M556.9,505.5L565.1,497.3M556.9,508.7L568.3,497.3M556.9,511.9L571.5,497.3M556.9,515.1L573.8,498.2M556.9,518.3L573.8,501.4M556.9,521.5L573.8,504.6M556.9,524.7L573.8,507.8M556.9,527.9L573.8,511M556.9,531.1L573.8,514.2M556.9,534.3L573.8,517.4M556.9,537.5L573.8,520.6M556.9,540.7L573.8,523.8M556.9,543.9L573.8,527M556.9,547.1L573.8,530.2M556.9,550.3L573.8,533.4M556.9,553.5L573.8,536.6M559.4,554.2L573.8,539.8M562.6,554.2L573.8,543M565.8,554.2L573.8,546.2M569,554.2L573.8,549.4M572.2,554.2L573.8,552.6" stroke="#1a1a1a" stroke-width="1.05" fill="none"/>
<rect x="586.6" y="316.25" width="6.5" height="141.75" fill="#fff"/>
<path d="M586.6,319L589.35,316.25M586.6,322.2L592.55,316.25M586.6,325.4L593.1,318.9M586.6,328.6L593.1,322.1M586.6,331.8L593.1,325.3M586.6,335L593.1,328.5M586.6,338.2L593.1,331.7M586.6,341.4L593.1,334.9M586.6,344.6L593.1,338.1M586.6,347.8L593.1,341.3M586.6,351L593.1,344.5M586.6,354.2L593.1,347.7M586.6,357.4L593.1,350.9M586.6,360.6L593.1,354.1M586.6,363.8L593.1,357.3M586.6,367L593.1,360.5M586.6,370.2L593.1,363.7M586.6,373.4L593.1,366.9M586.6,376.6L593.1,370.1M586.6,379.8L593.1,373.3M586.6,383L593.1,376.5M586.6,386.2L593.1,379.7M586.6,389.4L593.1,382.9M586.6,392.6L593.1,386.1M586.6,395.8L593.1,389.3M586.6,399L593.1,392.5M586.6,402.2L593.1,395.7M586.6,405.4L593.1,398.9M586.6,408.6L593.1,402.1M586.6,411.8L593.1,405.3M586.6,415L593.1,408.5M586.6,418.2L593.1,411.7M586.6,421.4L593.1,414.9M586.6,424.6L593.1,418.1M586.6,427.8L593.1,421.3M586.6,431L593.1,424.5M586.6,434.2L593.1,427.7M586.6,437.4L593.1,430.9M586.6,440.6L593.1,434.1M586.6,443.8L593.1,437.3M586.6,447L593.1,440.5M586.6,450.2L593.1,443.7M586.6,453.4L593.1,446.9M586.6,456.6L593.1,450.1M588.4,458L593.1,453.3M591.6,458L593.1,456.5" stroke="#1a1a1a" stroke-width="1.05" fill="none"/>
<rect x="586.6" y="497.3" width="6.5" height="56.9" fill="#fff"/>
<path d="M586.6,498.2L587.5,497.3M586.6,501.4L590.7,497.3M586.6,504.6L593.1,498.1M586.6,507.8L593.1,501.3M586.6,511L593.1,504.5M586.6,514.2L593.1,507.7M586.6,517.4L593.1,510.9M586.6,520.6L593.1,514.1M586.6,523.8L593.1,517.3M586.6,527L593.1,520.5M586.6,530.2L593.1,523.7M586.6,533.4L593.1,526.9M586.6,536.6L593.1,530.1M586.6,539.8L593.1,533.3M586.6,543L593.1,536.5M586.6,546.2L593.1,539.7M586.6,549.4L593.1,542.9M586.6,552.6L593.1,546.1M588.2,554.2L593.1,549.3M591.4,554.2L593.1,552.5" stroke="#1a1a1a" stroke-width="1.05" fill="none"/>
<rect x="605.9" y="316.25" width="67.5" height="141.75" fill="#d3b3b5"/>
<rect x="605.9" y="497.3" width="67.5" height="56.9" fill="#d3b3b5"/>
<line x1="393.5" y1="424" x2="672.8" y2="424" stroke="#000" stroke-width="1.35" stroke-linecap="butt" stroke-dasharray="1.3,3.08"/>
<line x1="520.8" y1="316.25" x2="520.8" y2="458" stroke="#000" stroke-width="1.6" stroke-linecap="butt" stroke-dasharray="3.9,3.1"/>
<line x1="520.8" y1="497.3" x2="520.8" y2="554.2" stroke="#000" stroke-width="1.6" stroke-linecap="butt" stroke-dasharray="3.9,3.1"/>
<path d="M389.7,316.25 V458 H673.4" fill="none" stroke="#4c4c4c" stroke-width="1.0" stroke-linejoin="round"/>
<path d="M389.7,469.5 V554.2 H673.4" fill="none" stroke="#4c4c4c" stroke-width="1.0" stroke-linejoin="round"/>
<line x1="383.9" y1="316.25" x2="389.7" y2="316.25" stroke="#222222" stroke-width="1" stroke-linecap="butt"/>
<line x1="383.9" y1="352.5" x2="389.7" y2="352.5" stroke="#222222" stroke-width="1" stroke-linecap="butt"/>
<line x1="383.9" y1="388" x2="389.7" y2="388" stroke="#222222" stroke-width="1" stroke-linecap="butt"/>
<line x1="383.9" y1="424" x2="389.7" y2="424" stroke="#222222" stroke-width="1" stroke-linecap="butt"/>
<line x1="383.9" y1="442.5" x2="389.7" y2="442.5" stroke="#222222" stroke-width="1" stroke-linecap="butt"/>
<line x1="383.9" y1="469.5" x2="389.7" y2="469.5" stroke="#222222" stroke-width="1" stroke-linecap="butt"/>
<line x1="383.9" y1="490.7" x2="389.7" y2="490.7" stroke="#222222" stroke-width="1" stroke-linecap="butt"/>
<line x1="383.9" y1="511.9" x2="389.7" y2="511.9" stroke="#222222" stroke-width="1" stroke-linecap="butt"/>
<line x1="383.9" y1="533" x2="389.7" y2="533" stroke="#222222" stroke-width="1" stroke-linecap="butt"/>
<line x1="383.9" y1="554.2" x2="389.7" y2="554.2" stroke="#222222" stroke-width="1" stroke-linecap="butt"/>
<line x1="399" y1="458" x2="399" y2="463.6" stroke="#222222" stroke-width="1" stroke-linecap="butt"/>
<line x1="399" y1="554.2" x2="399" y2="559.8" stroke="#222222" stroke-width="1" stroke-linecap="butt"/>
<line x1="490.4" y1="458" x2="490.4" y2="463.6" stroke="#222222" stroke-width="1" stroke-linecap="butt"/>
<line x1="490.4" y1="554.2" x2="490.4" y2="559.8" stroke="#222222" stroke-width="1" stroke-linecap="butt"/>
<line x1="582" y1="458" x2="582" y2="463.6" stroke="#222222" stroke-width="1" stroke-linecap="butt"/>
<line x1="582" y1="554.2" x2="582" y2="559.8" stroke="#222222" stroke-width="1" stroke-linecap="butt"/>
<line x1="673.4" y1="458" x2="673.4" y2="463.6" stroke="#222222" stroke-width="1" stroke-linecap="butt"/>
<line x1="673.4" y1="554.2" x2="673.4" y2="559.8" stroke="#222222" stroke-width="1" stroke-linecap="butt"/>
<polyline points="399,340.25 418.25,442.5 437.5,442.5 456.75,442.5 476.25,442.5 496,442.5 535.25,442.5 554.3,442.5 573.8,442.5" fill="none" stroke="#000" stroke-width="1.1" stroke-linejoin="round"/>
<circle cx="399" cy="340.25" r="2.3" fill="#000"/>
<circle cx="418.25" cy="442.5" r="2.3" fill="#000"/>
<circle cx="437.5" cy="442.5" r="2.3" fill="#000"/>
<circle cx="456.75" cy="442.5" r="2.3" fill="#000"/>
<circle cx="476.25" cy="442.5" r="2.3" fill="#000"/>
<circle cx="496" cy="442.5" r="2.3" fill="#000"/>
<circle cx="535.25" cy="442.5" r="2.3" fill="#000"/>
<circle cx="554.3" cy="442.5" r="2.3" fill="#000"/>
<circle cx="573.8" cy="442.5" r="2.3" fill="#000"/>
<polyline points="394.5,478 452.25,551.75 507,553.25 604,554" fill="none" stroke="#000" stroke-width="1.1" stroke-linejoin="round"/>
<circle cx="394.5" cy="478" r="2.3" fill="#000"/>
<circle cx="452.25" cy="551.75" r="2.3" fill="#000"/>
<circle cx="507" cy="553.25" r="2.3" fill="#000"/>
<circle cx="604" cy="554" r="2.3" fill="#000"/>
<text transform="translate(383,317.85)" font-size="11.2" text-anchor="end" fill="#1a1a1a">10<tspan font-size="7.7" dx="0.7" dy="-3.4">3</tspan></text>
<text transform="translate(383,354.1)" font-size="11.2" text-anchor="end" fill="#1a1a1a">10<tspan font-size="7.7" dx="0.7" dy="-3.4">2</tspan></text>
<text transform="translate(383,389.6)" font-size="11.2" text-anchor="end" fill="#1a1a1a">10<tspan font-size="7.7" dx="0.7" dy="-3.4">1</tspan></text>
<text transform="translate(383,425.6)" font-size="11.2" text-anchor="end" fill="#1a1a1a">10<tspan font-size="7.7" dx="0.7" dy="-3.4">0</tspan></text>
<text transform="translate(382.3,446.5)" font-size="11.8" text-anchor="end" fill="#1a1a1a">ND</text>
<text transform="translate(382.7,473.5)" font-size="11.8" text-anchor="end" fill="#1a1a1a">200</text>
<text transform="translate(382.7,494.7)" font-size="11.8" text-anchor="end" fill="#1a1a1a">150</text>
<text transform="translate(382.7,515.9)" font-size="11.8" text-anchor="end" fill="#1a1a1a">100</text>
<text transform="translate(382.7,537)" font-size="11.8" text-anchor="end" fill="#1a1a1a">50</text>
<text transform="translate(384.3,558.2)" font-size="11.8" text-anchor="end" fill="#1a1a1a">0</text>
<text transform="translate(399,571)" font-size="11.8" text-anchor="middle" fill="#1a1a1a">0</text>
<text transform="translate(490.4,571)" font-size="11.8" text-anchor="middle" fill="#1a1a1a">100</text>
<text transform="translate(582,571)" font-size="11.8" text-anchor="middle" fill="#1a1a1a">200</text>
<text transform="translate(673.4,571)" font-size="11.8" text-anchor="middle" fill="#1a1a1a">300</text>
<text transform="translate(534.45,584.1)" font-size="11.8" text-anchor="middle" fill="#1a1a1a">Time (days)</text>
<text transform="translate(358.8,378) rotate(-90)" font-size="11.8" text-anchor="middle" fill="#1a1a1a">ctDNA (MTM/ml)</text>
<text transform="translate(358.8,507.8) rotate(-90)" font-size="11.8" text-anchor="middle" fill="#1a1a1a">Tumor volume (ml)</text>
<rect x="479.7" y="471.3" width="7.9" height="7.8" fill="#f5f9e0"/>
<text transform="translate(490.7,479.1)" font-size="11.8" text-anchor="start" fill="#1a1a1a">I2VAd</text>
<rect x="526.2" y="471.3" width="7.9" height="7.8" fill="#d3d3d3"/>
<text transform="translate(537.4,479.1)" font-size="11.8" text-anchor="start" fill="#1a1a1a">I2VA</text>
<line x1="564.3" y1="475.6" x2="574.4" y2="475.6" stroke="#000" stroke-width="1.6" stroke-linecap="butt" stroke-dasharray="4,2.1"/>
<text transform="translate(577.9,479.1)" font-size="11.8" text-anchor="start" fill="#1a1a1a">surgery</text>
<rect x="620.8" y="471.3" width="7.9" height="7.8" fill="#c0c2fb"/>
<text transform="translate(632,479.1)" font-size="11.8" text-anchor="start" fill="#1a1a1a">I2V</text>
<path d="M479.7,485.25L481.9,483.05M479.7,488.95L485.6,483.05M481.4,490.95L487.9,484.45M485.1,490.95L487.9,488.15" stroke="#262626" stroke-width="1.2" fill="none"/>
<text transform="translate(492,490.9)" font-size="11.8" text-anchor="start" fill="#1a1a1a">radiotherapy</text>
<rect x="566.4" y="483.1" width="7.9" height="7.8" fill="#d3b3b5"/>
<text transform="translate(577.4,490.9)" font-size="11.8" text-anchor="start" fill="#1a1a1a">maintenance</text>
<text transform="translate(0.55,590.8)" font-size="23.2" text-anchor="start" fill="#000">E</text>
<text transform="translate(43.9,596)" font-size="19.3" text-anchor="start" fill="#000">C003</text>
<rect x="52.5" y="603.25" width="90.5" height="141.25" fill="#d3d3d3"/>
<rect x="52.5" y="756.9" width="90.5" height="85.2" fill="#d3d3d3"/>
<rect x="118.7" y="603.25" width="10.2" height="141.25" fill="#ececec"/>
<path d="M118.7,604L119.45,603.25M118.7,607.3L122.75,603.25M118.7,610.6L126.05,603.25M118.7,613.9L128.9,603.7M118.7,617.2L128.9,607M118.7,620.5L128.9,610.3M118.7,623.8L128.9,613.6M118.7,627.1L128.9,616.9M118.7,630.4L128.9,620.2M118.7,633.7L128.9,623.5M118.7,637L128.9,626.8M118.7,640.3L128.9,630.1M118.7,643.6L128.9,633.4M118.7,646.9L128.9,636.7M118.7,650.2L128.9,640M118.7,653.5L128.9,643.3M118.7,656.8L128.9,646.6M118.7,660.1L128.9,649.9M118.7,663.4L128.9,653.2M118.7,666.7L128.9,656.5M118.7,670L128.9,659.8M118.7,673.3L128.9,663.1M118.7,676.6L128.9,666.4M118.7,679.9L128.9,669.7M118.7,683.2L128.9,673M118.7,686.5L128.9,676.3M118.7,689.8L128.9,679.6M118.7,693.1L128.9,682.9M118.7,696.4L128.9,686.2M118.7,699.7L128.9,689.5M118.7,703L128.9,692.8M118.7,706.3L128.9,696.1M118.7,709.6L128.9,699.4M118.7,712.9L128.9,702.7M118.7,716.2L128.9,706M118.7,719.5L128.9,709.3M118.7,722.8L128.9,712.6M118.7,726.1L128.9,715.9M118.7,729.4L128.9,719.2M118.7,732.7L128.9,722.5M118.7,736L128.9,725.8M118.7,739.3L128.9,729.1M118.7,742.6L128.9,732.4M120.1,744.5L128.9,735.7M123.4,744.5L128.9,739M126.7,744.5L128.9,742.3" stroke="#555" stroke-width="1.05" fill="none"/>
<rect x="118.7" y="756.9" width="10.2" height="85.2" fill="#ececec"/>
<path d="M118.7,759.1L120.9,756.9M118.7,762.4L124.2,756.9M118.7,765.7L127.5,756.9M118.7,769L128.9,758.8M118.7,772.3L128.9,762.1M118.7,775.6L128.9,765.4M118.7,778.9L128.9,768.7M118.7,782.2L128.9,772M118.7,785.5L128.9,775.3M118.7,788.8L128.9,778.6M118.7,792.1L128.9,781.9M118.7,795.4L128.9,785.2M118.7,798.7L128.9,788.5M118.7,802L128.9,791.8M118.7,805.3L128.9,795.1M118.7,808.6L128.9,798.4M118.7,811.9L128.9,801.7M118.7,815.2L128.9,805M118.7,818.5L128.9,808.3M118.7,821.8L128.9,811.6M118.7,825.1L128.9,814.9M118.7,828.4L128.9,818.2M118.7,831.7L128.9,821.5M118.7,835L128.9,824.8M118.7,838.3L128.9,828.1M118.7,841.6L128.9,831.4M121.5,842.1L128.9,834.7M124.8,842.1L128.9,838M128.1,842.1L128.9,841.3" stroke="#555" stroke-width="1.05" fill="none"/>
<line x1="47.3" y1="710.5" x2="325.2" y2="710.5" stroke="#000" stroke-width="1.35" stroke-linecap="butt" stroke-dasharray="1.3,3.08"/>
<line x1="116.4" y1="603.25" x2="116.4" y2="744.5" stroke="#000" stroke-width="1.6" stroke-linecap="butt" stroke-dasharray="3.9,3.1"/>
<line x1="116.4" y1="756.9" x2="116.4" y2="842.1" stroke="#000" stroke-width="1.6" stroke-linecap="butt" stroke-dasharray="3.9,3.1"/>
<path d="M43.5,603.25 V744.5 H326.7" fill="none" stroke="#4c4c4c" stroke-width="1.0" stroke-linejoin="round"/>
<path d="M43.5,756.9 V842.1 H326.7" fill="none" stroke="#4c4c4c" stroke-width="1.0" stroke-linejoin="round"/>
<line x1="37.7" y1="603.25" x2="43.5" y2="603.25" stroke="#222222" stroke-width="1" stroke-linecap="butt"/>
<line x1="37.7" y1="638.75" x2="43.5" y2="638.75" stroke="#222222" stroke-width="1" stroke-linecap="butt"/>
<line x1="37.7" y1="674.5" x2="43.5" y2="674.5" stroke="#222222" stroke-width="1" stroke-linecap="butt"/>
<line x1="37.7" y1="710.5" x2="43.5" y2="710.5" stroke="#222222" stroke-width="1" stroke-linecap="butt"/>
<line x1="37.7" y1="729.25" x2="43.5" y2="729.25" stroke="#222222" stroke-width="1" stroke-linecap="butt"/>
<line x1="37.7" y1="756.9" x2="43.5" y2="756.9" stroke="#222222" stroke-width="1" stroke-linecap="butt"/>
<line x1="37.7" y1="773.94" x2="43.5" y2="773.94" stroke="#222222" stroke-width="1" stroke-linecap="butt"/>
<line x1="37.7" y1="790.98" x2="43.5" y2="790.98" stroke="#222222" stroke-width="1" stroke-linecap="butt"/>
<line x1="37.7" y1="808.02" x2="43.5" y2="808.02" stroke="#222222" stroke-width="1" stroke-linecap="butt"/>
<line x1="37.7" y1="825.06" x2="43.5" y2="825.06" stroke="#222222" stroke-width="1" stroke-linecap="butt"/>
<line x1="37.7" y1="842.1" x2="43.5" y2="842.1" stroke="#222222" stroke-width="1" stroke-linecap="butt"/>
<line x1="52.5" y1="744.5" x2="52.5" y2="750.1" stroke="#222222" stroke-width="1" stroke-linecap="butt"/>
<line x1="52.5" y1="842.1" x2="52.5" y2="847.7" stroke="#222222" stroke-width="1" stroke-linecap="butt"/>
<line x1="98.2" y1="744.5" x2="98.2" y2="750.1" stroke="#222222" stroke-width="1" stroke-linecap="butt"/>
<line x1="98.2" y1="842.1" x2="98.2" y2="847.7" stroke="#222222" stroke-width="1" stroke-linecap="butt"/>
<line x1="143.9" y1="744.5" x2="143.9" y2="750.1" stroke="#222222" stroke-width="1" stroke-linecap="butt"/>
<line x1="143.9" y1="842.1" x2="143.9" y2="847.7" stroke="#222222" stroke-width="1" stroke-linecap="butt"/>
<line x1="189.6" y1="744.5" x2="189.6" y2="750.1" stroke="#222222" stroke-width="1" stroke-linecap="butt"/>
<line x1="189.6" y1="842.1" x2="189.6" y2="847.7" stroke="#222222" stroke-width="1" stroke-linecap="butt"/>
<line x1="235.3" y1="744.5" x2="235.3" y2="750.1" stroke="#222222" stroke-width="1" stroke-linecap="butt"/>
<line x1="235.3" y1="842.1" x2="235.3" y2="847.7" stroke="#222222" stroke-width="1" stroke-linecap="butt"/>
<line x1="281" y1="744.5" x2="281" y2="750.1" stroke="#222222" stroke-width="1" stroke-linecap="butt"/>
<line x1="281" y1="842.1" x2="281" y2="847.7" stroke="#222222" stroke-width="1" stroke-linecap="butt"/>
<line x1="326.7" y1="744.5" x2="326.7" y2="750.1" stroke="#222222" stroke-width="1" stroke-linecap="butt"/>
<line x1="326.7" y1="842.1" x2="326.7" y2="847.7" stroke="#222222" stroke-width="1" stroke-linecap="butt"/>
<polyline points="52.5,729.25 62,729.25 71.75,729.25 81,729.25 90.5,729.25 99.75,729.25 109.75,729.25 129,729.25" fill="none" stroke="#000" stroke-width="1.1" stroke-linejoin="round"/>
<circle cx="52.5" cy="729.25" r="2.3" fill="#000"/>
<circle cx="62" cy="729.25" r="2.3" fill="#000"/>
<circle cx="71.75" cy="729.25" r="2.3" fill="#000"/>
<circle cx="81" cy="729.25" r="2.3" fill="#000"/>
<circle cx="90.5" cy="729.25" r="2.3" fill="#000"/>
<circle cx="99.75" cy="729.25" r="2.3" fill="#000"/>
<circle cx="109.75" cy="729.25" r="2.3" fill="#000"/>
<circle cx="129" cy="729.25" r="2.3" fill="#000"/>
<polyline points="43.25,827.5 76.75,833 97.75,836 155.4,842 267.4,842 324.9,842" fill="none" stroke="#000" stroke-width="1.1" stroke-linejoin="round"/>
<circle cx="43.25" cy="827.5" r="2.3" fill="#000"/>
<circle cx="76.75" cy="833" r="2.3" fill="#000"/>
<circle cx="97.75" cy="836" r="2.3" fill="#000"/>
<circle cx="155.4" cy="842" r="2.3" fill="#000"/>
<circle cx="267.4" cy="842" r="2.3" fill="#000"/>
<circle cx="324.9" cy="842" r="2.3" fill="#000"/>
<text transform="translate(36.4,604.85)" font-size="11.2" text-anchor="end" fill="#1a1a1a">10<tspan font-size="7.7" dx="0.7" dy="-3.4">3</tspan></text>
<text transform="translate(36.4,640.35)" font-size="11.2" text-anchor="end" fill="#1a1a1a">10<tspan font-size="7.7" dx="0.7" dy="-3.4">2</tspan></text>
<text transform="translate(36.4,676.1)" font-size="11.2" text-anchor="end" fill="#1a1a1a">10<tspan font-size="7.7" dx="0.7" dy="-3.4">1</tspan></text>
<text transform="translate(36.4,712.1)" font-size="11.2" text-anchor="end" fill="#1a1a1a">10<tspan font-size="7.7" dx="0.7" dy="-3.4">0</tspan></text>
<text transform="translate(36.3,733.25)" font-size="11.8" text-anchor="end" fill="#1a1a1a">ND</text>
<text transform="translate(33.6,760.9)" font-size="11.8" text-anchor="end" fill="#1a1a1a">10</text>
<text transform="translate(33.6,777.94)" font-size="11.8" text-anchor="end" fill="#1a1a1a">8</text>
<text transform="translate(33.6,794.98)" font-size="11.8" text-anchor="end" fill="#1a1a1a">6</text>
<text transform="translate(33.6,812.02)" font-size="11.8" text-anchor="end" fill="#1a1a1a">4</text>
<text transform="translate(33.6,829.06)" font-size="11.8" text-anchor="end" fill="#1a1a1a">2</text>
<text transform="translate(33.6,846.1)" font-size="11.8" text-anchor="end" fill="#1a1a1a">0</text>
<text transform="translate(52.5,858.4)" font-size="11.8" text-anchor="middle" fill="#1a1a1a">0</text>
<text transform="translate(98.2,858.4)" font-size="11.8" text-anchor="middle" fill="#1a1a1a">100</text>
<text transform="translate(143.9,858.4)" font-size="11.8" text-anchor="middle" fill="#1a1a1a">200</text>
<text transform="translate(189.6,858.4)" font-size="11.8" text-anchor="middle" fill="#1a1a1a">300</text>
<text transform="translate(235.3,858.4)" font-size="11.8" text-anchor="middle" fill="#1a1a1a">400</text>
<text transform="translate(281,858.4)" font-size="11.8" text-anchor="middle" fill="#1a1a1a">500</text>
<text transform="translate(326.7,858.4)" font-size="11.8" text-anchor="middle" fill="#1a1a1a">600</text>
<text transform="translate(190.05,871.3)" font-size="11.8" text-anchor="middle" fill="#1a1a1a">Time (days)</text>
<text transform="translate(13.2,664.7) rotate(-90)" font-size="11.8" text-anchor="middle" fill="#1a1a1a">ctDNA (MTM/ml)</text>
<text transform="translate(13.2,794.3) rotate(-90)" font-size="11.8" text-anchor="middle" fill="#1a1a1a">Tumor volume (ml)</text>
<rect x="152.4" y="761" width="8.2" height="7.8" fill="#d3d3d3"/>
<text transform="translate(162.9,768.8)" font-size="11.8" text-anchor="start" fill="#1a1a1a">I2VA</text>
<line x1="193.1" y1="765.3" x2="203.2" y2="765.3" stroke="#000" stroke-width="1.6" stroke-linecap="butt" stroke-dasharray="4,2.1"/>
<text transform="translate(207.1,768.8)" font-size="11.8" text-anchor="start" fill="#1a1a1a">surgery</text>
<path d="M250,763.15L252.2,760.95M250,766.85L255.9,760.95M251.7,768.85L258.2,762.35M255.4,768.85L258.2,766.05" stroke="#262626" stroke-width="1.2" fill="none"/>
<text transform="translate(261.4,768.8)" font-size="11.8" text-anchor="start" fill="#1a1a1a">radiotherapy</text>
<text transform="translate(347.95,590.8)" font-size="23.2" text-anchor="start" fill="#000">F</text>
<text transform="translate(389.9,596)" font-size="19.3" text-anchor="start" fill="#000">C068</text>
<rect x="398.25" y="603.25" width="78" height="141.75" fill="#d3d3d3"/>
<rect x="398.25" y="757" width="78" height="85.1" fill="#d3d3d3"/>
<rect x="445.25" y="603.25" width="16.75" height="141.75" fill="#fff"/>
<path d="M445.25,604.35L446.35,603.25M445.25,607.55L449.55,603.25M445.25,610.75L452.75,603.25M445.25,613.95L455.95,603.25M445.25,617.15L459.15,603.25M445.25,620.35L462,603.6M445.25,623.55L462,606.8M445.25,626.75L462,610M445.25,629.95L462,613.2M445.25,633.15L462,616.4M445.25,636.35L462,619.6M445.25,639.55L462,622.8M445.25,642.75L462,626M445.25,645.95L462,629.2M445.25,649.15L462,632.4M445.25,652.35L462,635.6M445.25,655.55L462,638.8M445.25,658.75L462,642M445.25,661.95L462,645.2M445.25,665.15L462,648.4M445.25,668.35L462,651.6M445.25,671.55L462,654.8M445.25,674.75L462,658M445.25,677.95L462,661.2M445.25,681.15L462,664.4M445.25,684.35L462,667.6M445.25,687.55L462,670.8M445.25,690.75L462,674M445.25,693.95L462,677.2M445.25,697.15L462,680.4M445.25,700.35L462,683.6M445.25,703.55L462,686.8M445.25,706.75L462,690M445.25,709.95L462,693.2M445.25,713.15L462,696.4M445.25,716.35L462,699.6M445.25,719.55L462,702.8M445.25,722.75L462,706M445.25,725.95L462,709.2M445.25,729.15L462,712.4M445.25,732.35L462,715.6M445.25,735.55L462,718.8M445.25,738.75L462,722M445.25,741.95L462,725.2M445.4,745L462,728.4M448.6,745L462,731.6M451.8,745L462,734.8M455,745L462,738M458.2,745L462,741.2M461.4,745L462,744.4" stroke="#1a1a1a" stroke-width="1.05" fill="none"/>
<rect x="445.25" y="757" width="16.75" height="85.1" fill="#fff"/>
<path d="M445.25,757.95L446.2,757M445.25,761.15L449.4,757M445.25,764.35L452.6,757M445.25,767.55L455.8,757M445.25,770.75L459,757M445.25,773.95L462,757.2M445.25,777.15L462,760.4M445.25,780.35L462,763.6M445.25,783.55L462,766.8M445.25,786.75L462,770M445.25,789.95L462,773.2M445.25,793.15L462,776.4M445.25,796.35L462,779.6M445.25,799.55L462,782.8M445.25,802.75L462,786M445.25,805.95L462,789.2M445.25,809.15L462,792.4M445.25,812.35L462,795.6M445.25,815.55L462,798.8M445.25,818.75L462,802M445.25,821.95L462,805.2M445.25,825.15L462,808.4M445.25,828.35L462,811.6M445.25,831.55L462,814.8M445.25,834.75L462,818M445.25,837.95L462,821.2M445.25,841.15L462,824.4M447.5,842.1L462,827.6M450.7,842.1L462,830.8M453.9,842.1L462,834M457.1,842.1L462,837.2M460.3,842.1L462,840.4" stroke="#1a1a1a" stroke-width="1.05" fill="none"/>
<line x1="393.3" y1="710.8" x2="670.3" y2="710.8" stroke="#000" stroke-width="1.35" stroke-linecap="butt" stroke-dasharray="1.3,3.08"/>
<path d="M389.5,603.25 V745 H672.5" fill="none" stroke="#4c4c4c" stroke-width="1.0" stroke-linejoin="round"/>
<path d="M389.5,757 V842.1 H672.5" fill="none" stroke="#4c4c4c" stroke-width="1.0" stroke-linejoin="round"/>
<line x1="383.7" y1="603.25" x2="389.5" y2="603.25" stroke="#222222" stroke-width="1" stroke-linecap="butt"/>
<line x1="383.7" y1="639.25" x2="389.5" y2="639.25" stroke="#222222" stroke-width="1" stroke-linecap="butt"/>
<line x1="383.7" y1="675" x2="389.5" y2="675" stroke="#222222" stroke-width="1" stroke-linecap="butt"/>
<line x1="383.7" y1="710.5" x2="389.5" y2="710.5" stroke="#222222" stroke-width="1" stroke-linecap="butt"/>
<line x1="383.7" y1="729.5" x2="389.5" y2="729.5" stroke="#222222" stroke-width="1" stroke-linecap="butt"/>
<line x1="383.7" y1="757" x2="389.5" y2="757" stroke="#222222" stroke-width="1" stroke-linecap="butt"/>
<line x1="383.7" y1="785.4" x2="389.5" y2="785.4" stroke="#222222" stroke-width="1" stroke-linecap="butt"/>
<line x1="383.7" y1="813.5" x2="389.5" y2="813.5" stroke="#222222" stroke-width="1" stroke-linecap="butt"/>
<line x1="383.7" y1="842.1" x2="389.5" y2="842.1" stroke="#222222" stroke-width="1" stroke-linecap="butt"/>
<line x1="398.25" y1="745" x2="398.25" y2="750.6" stroke="#222222" stroke-width="1" stroke-linecap="butt"/>
<line x1="398.25" y1="842.1" x2="398.25" y2="847.7" stroke="#222222" stroke-width="1" stroke-linecap="butt"/>
<line x1="443.95" y1="745" x2="443.95" y2="750.6" stroke="#222222" stroke-width="1" stroke-linecap="butt"/>
<line x1="443.95" y1="842.1" x2="443.95" y2="847.7" stroke="#222222" stroke-width="1" stroke-linecap="butt"/>
<line x1="489.65" y1="745" x2="489.65" y2="750.6" stroke="#222222" stroke-width="1" stroke-linecap="butt"/>
<line x1="489.65" y1="842.1" x2="489.65" y2="847.7" stroke="#222222" stroke-width="1" stroke-linecap="butt"/>
<line x1="535.35" y1="745" x2="535.35" y2="750.6" stroke="#222222" stroke-width="1" stroke-linecap="butt"/>
<line x1="535.35" y1="842.1" x2="535.35" y2="847.7" stroke="#222222" stroke-width="1" stroke-linecap="butt"/>
<line x1="581.05" y1="745" x2="581.05" y2="750.6" stroke="#222222" stroke-width="1" stroke-linecap="butt"/>
<line x1="581.05" y1="842.1" x2="581.05" y2="847.7" stroke="#222222" stroke-width="1" stroke-linecap="butt"/>
<line x1="626.75" y1="745" x2="626.75" y2="750.6" stroke="#222222" stroke-width="1" stroke-linecap="butt"/>
<line x1="626.75" y1="842.1" x2="626.75" y2="847.7" stroke="#222222" stroke-width="1" stroke-linecap="butt"/>
<line x1="672.45" y1="745" x2="672.45" y2="750.6" stroke="#222222" stroke-width="1" stroke-linecap="butt"/>
<line x1="672.45" y1="842.1" x2="672.45" y2="847.7" stroke="#222222" stroke-width="1" stroke-linecap="butt"/>
<polyline points="398.25,729.5 409,729.5 418.75,706.25 428.25,729.5 466.5,729.5 476.25,729.5 646.7,729.5" fill="none" stroke="#000" stroke-width="1.1" stroke-linejoin="round"/>
<circle cx="398.25" cy="729.5" r="2.3" fill="#000"/>
<circle cx="409" cy="729.5" r="2" fill="#fff" stroke="#000" stroke-width="0.8"/>
<circle cx="418.75" cy="706.25" r="2.3" fill="#000"/>
<circle cx="428.25" cy="729.5" r="2" fill="#fff" stroke="#000" stroke-width="0.8"/>
<circle cx="466.5" cy="729.5" r="2" fill="#fff" stroke="#000" stroke-width="0.8"/>
<circle cx="476.25" cy="729.5" r="2" fill="#fff" stroke="#000" stroke-width="0.8"/>
<circle cx="646.7" cy="729.5" r="2.3" fill="#000"/>
<polyline points="390.75,767.25 420.75,821.25 482,830.5 645.8,842" fill="none" stroke="#000" stroke-width="1.1" stroke-linejoin="round"/>
<circle cx="390.75" cy="767.25" r="2.3" fill="#000"/>
<circle cx="420.75" cy="821.25" r="2.3" fill="#000"/>
<circle cx="482" cy="830.5" r="2.3" fill="#000"/>
<circle cx="645.8" cy="842" r="2.3" fill="#000"/>
<text transform="translate(382.3,604.85)" font-size="11.2" text-anchor="end" fill="#1a1a1a">10<tspan font-size="7.7" dx="0.7" dy="-3.4">3</tspan></text>
<text transform="translate(382.3,640.85)" font-size="11.2" text-anchor="end" fill="#1a1a1a">10<tspan font-size="7.7" dx="0.7" dy="-3.4">2</tspan></text>
<text transform="translate(382.3,676.6)" font-size="11.2" text-anchor="end" fill="#1a1a1a">10<tspan font-size="7.7" dx="0.7" dy="-3.4">1</tspan></text>
<text transform="translate(382.3,712.1)" font-size="11.2" text-anchor="end" fill="#1a1a1a">10<tspan font-size="7.7" dx="0.7" dy="-3.4">0</tspan></text>
<text transform="translate(381.6,733.5)" font-size="11.8" text-anchor="end" fill="#1a1a1a">ND</text>
<text transform="translate(379.7,761)" font-size="11.8" text-anchor="end" fill="#1a1a1a">60</text>
<text transform="translate(379.7,789.4)" font-size="11.8" text-anchor="end" fill="#1a1a1a">40</text>
<text transform="translate(379.7,817.5)" font-size="11.8" text-anchor="end" fill="#1a1a1a">20</text>
<text transform="translate(381.7,846.1)" font-size="11.8" text-anchor="end" fill="#1a1a1a">0</text>
<text transform="translate(398.25,858.4)" font-size="11.8" text-anchor="middle" fill="#1a1a1a">0</text>
<text transform="translate(443.95,858.4)" font-size="11.8" text-anchor="middle" fill="#1a1a1a">100</text>
<text transform="translate(489.65,858.4)" font-size="11.8" text-anchor="middle" fill="#1a1a1a">200</text>
<text transform="translate(535.35,858.4)" font-size="11.8" text-anchor="middle" fill="#1a1a1a">300</text>
<text transform="translate(581.05,858.4)" font-size="11.8" text-anchor="middle" fill="#1a1a1a">400</text>
<text transform="translate(626.75,858.4)" font-size="11.8" text-anchor="middle" fill="#1a1a1a">500</text>
<text transform="translate(672.45,858.4)" font-size="11.8" text-anchor="middle" fill="#1a1a1a">600</text>
<text transform="translate(535.7,871.6)" font-size="11.8" text-anchor="middle" fill="#1a1a1a">Time (days)</text>
<text transform="translate(358.8,664.4) rotate(-90)" font-size="11.8" text-anchor="middle" fill="#1a1a1a">ctDNA (MTM/ml)</text>
<text transform="translate(358.8,794.8) rotate(-90)" font-size="11.8" text-anchor="middle" fill="#1a1a1a">Tumor volume (ml)</text>
<rect x="556.7" y="762.4" width="8" height="7.8" fill="#d3d3d3"/>
<text transform="translate(567.8,770.2)" font-size="11.8" text-anchor="start" fill="#1a1a1a">I2VA</text>
<path d="M595,764.55L597.2,762.35M595,768.25L600.9,762.35M596.7,770.25L603.2,763.75M600.4,770.25L603.2,767.45" stroke="#262626" stroke-width="1.2" fill="none"/>
<text transform="translate(606.8,770.2)" font-size="11.8" text-anchor="start" fill="#1a1a1a">radiotherapy</text>
<text transform="translate(1,880.4)" font-size="23.2" text-anchor="start" fill="#000">G</text>
<text transform="translate(44.1,885.5)" font-size="19.3" text-anchor="start" fill="#000">C076</text>
<rect x="62" y="891.75" width="34.75" height="141.55" fill="#d3d3d3"/>
<rect x="62" y="1043.9" width="34.75" height="85.1" fill="#d3d3d3"/>
<rect x="96.75" y="891.75" width="46.25" height="141.55" fill="#f1e6da"/>
<rect x="96.75" y="1043.9" width="46.25" height="85.1" fill="#f1e6da"/>
<line x1="46.8" y1="999.3" x2="325.8" y2="999.3" stroke="#000" stroke-width="1.35" stroke-linecap="butt" stroke-dasharray="1.3,3.08"/>
<line x1="51.75" y1="891.75" x2="51.75" y2="1033.3" stroke="#000" stroke-width="1.6" stroke-linecap="butt" stroke-dasharray="3.9,3.1"/>
<line x1="51.75" y1="1043.9" x2="51.75" y2="1129" stroke="#000" stroke-width="1.6" stroke-linecap="butt" stroke-dasharray="3.9,3.1"/>
<path d="M43,891.75 V1033.3 H326.4" fill="none" stroke="#4c4c4c" stroke-width="1.0" stroke-linejoin="round"/>
<path d="M43,1043.9 V1129 H326.4" fill="none" stroke="#4c4c4c" stroke-width="1.0" stroke-linejoin="round"/>
<line x1="37.2" y1="891.75" x2="43" y2="891.75" stroke="#222222" stroke-width="1" stroke-linecap="butt"/>
<line x1="37.2" y1="927.5" x2="43" y2="927.5" stroke="#222222" stroke-width="1" stroke-linecap="butt"/>
<line x1="37.2" y1="963.25" x2="43" y2="963.25" stroke="#222222" stroke-width="1" stroke-linecap="butt"/>
<line x1="37.2" y1="999.3" x2="43" y2="999.3" stroke="#222222" stroke-width="1" stroke-linecap="butt"/>
<line x1="37.2" y1="1018" x2="43" y2="1018" stroke="#222222" stroke-width="1" stroke-linecap="butt"/>
<line x1="37.2" y1="1043.9" x2="43" y2="1043.9" stroke="#222222" stroke-width="1" stroke-linecap="butt"/>
<line x1="37.2" y1="1060.92" x2="43" y2="1060.92" stroke="#222222" stroke-width="1" stroke-linecap="butt"/>
<line x1="37.2" y1="1077.94" x2="43" y2="1077.94" stroke="#222222" stroke-width="1" stroke-linecap="butt"/>
<line x1="37.2" y1="1094.96" x2="43" y2="1094.96" stroke="#222222" stroke-width="1" stroke-linecap="butt"/>
<line x1="37.2" y1="1111.98" x2="43" y2="1111.98" stroke="#222222" stroke-width="1" stroke-linecap="butt"/>
<line x1="37.2" y1="1129" x2="43" y2="1129" stroke="#222222" stroke-width="1" stroke-linecap="butt"/>
<line x1="51.75" y1="1033.3" x2="51.75" y2="1038.9" stroke="#222222" stroke-width="1" stroke-linecap="butt"/>
<line x1="51.75" y1="1129" x2="51.75" y2="1134.6" stroke="#222222" stroke-width="1" stroke-linecap="butt"/>
<line x1="96" y1="1033.3" x2="96" y2="1038.9" stroke="#222222" stroke-width="1" stroke-linecap="butt"/>
<line x1="96" y1="1129" x2="96" y2="1134.6" stroke="#222222" stroke-width="1" stroke-linecap="butt"/>
<line x1="140.25" y1="1033.3" x2="140.25" y2="1038.9" stroke="#222222" stroke-width="1" stroke-linecap="butt"/>
<line x1="140.25" y1="1129" x2="140.25" y2="1134.6" stroke="#222222" stroke-width="1" stroke-linecap="butt"/>
<line x1="184.5" y1="1033.3" x2="184.5" y2="1038.9" stroke="#222222" stroke-width="1" stroke-linecap="butt"/>
<line x1="184.5" y1="1129" x2="184.5" y2="1134.6" stroke="#222222" stroke-width="1" stroke-linecap="butt"/>
<line x1="228.75" y1="1033.3" x2="228.75" y2="1038.9" stroke="#222222" stroke-width="1" stroke-linecap="butt"/>
<line x1="228.75" y1="1129" x2="228.75" y2="1134.6" stroke="#222222" stroke-width="1" stroke-linecap="butt"/>
<line x1="273" y1="1033.3" x2="273" y2="1038.9" stroke="#222222" stroke-width="1" stroke-linecap="butt"/>
<line x1="273" y1="1129" x2="273" y2="1134.6" stroke="#222222" stroke-width="1" stroke-linecap="butt"/>
<line x1="317.25" y1="1033.3" x2="317.25" y2="1038.9" stroke="#222222" stroke-width="1" stroke-linecap="butt"/>
<line x1="317.25" y1="1129" x2="317.25" y2="1134.6" stroke="#222222" stroke-width="1" stroke-linecap="butt"/>
<polyline points="62,1018 71.75,1018 80.5,1018 90.25,1018 136.25,1018 158.5,1018 210.2,1018 276,1018 294.5,1018 319.9,1018" fill="none" stroke="#000" stroke-width="1.1" stroke-linejoin="round"/>
<circle cx="62" cy="1018" r="2.3" fill="#000"/>
<circle cx="71.75" cy="1018" r="2.3" fill="#000"/>
<circle cx="80.5" cy="1018" r="2.3" fill="#000"/>
<circle cx="90.25" cy="1018" r="2" fill="#fff" stroke="#000" stroke-width="0.8"/>
<circle cx="136.25" cy="1018" r="2.3" fill="#000"/>
<circle cx="158.5" cy="1018" r="2.3" fill="#000"/>
<circle cx="210.2" cy="1018" r="2.3" fill="#000"/>
<circle cx="276" cy="1018" r="2.3" fill="#000"/>
<circle cx="294.5" cy="1018" r="2.3" fill="#000"/>
<circle cx="319.9" cy="1018" r="2" fill="#fff" stroke="#000" stroke-width="0.8"/>
<polyline points="50.25,1049.25 62,1096 70.75,1127.5 81.25,1129 89.25,1129 114.25,1129 158.3,1129 210.2,1129 269.8,1129 319.3,1129" fill="none" stroke="#000" stroke-width="1.1" stroke-linejoin="round"/>
<circle cx="50.25" cy="1049.25" r="2.3" fill="#000"/>
<circle cx="62" cy="1096" r="2.3" fill="#000"/>
<circle cx="70.75" cy="1127.5" r="2.3" fill="#000"/>
<circle cx="81.25" cy="1129" r="2.3" fill="#000"/>
<circle cx="89.25" cy="1129" r="2.3" fill="#000"/>
<circle cx="114.25" cy="1129" r="2.3" fill="#000"/>
<circle cx="158.3" cy="1129" r="2.3" fill="#000"/>
<circle cx="210.2" cy="1129" r="2.3" fill="#000"/>
<circle cx="269.8" cy="1129" r="2.3" fill="#000"/>
<circle cx="319.3" cy="1129" r="2.3" fill="#000"/>
<text transform="translate(35.8,893.35)" font-size="11.2" text-anchor="end" fill="#1a1a1a">10<tspan font-size="7.7" dx="0.7" dy="-3.4">3</tspan></text>
<text transform="translate(35.8,929.1)" font-size="11.2" text-anchor="end" fill="#1a1a1a">10<tspan font-size="7.7" dx="0.7" dy="-3.4">2</tspan></text>
<text transform="translate(35.8,964.85)" font-size="11.2" text-anchor="end" fill="#1a1a1a">10<tspan font-size="7.7" dx="0.7" dy="-3.4">1</tspan></text>
<text transform="translate(35.8,1000.9)" font-size="11.2" text-anchor="end" fill="#1a1a1a">10<tspan font-size="7.7" dx="0.7" dy="-3.4">0</tspan></text>
<text transform="translate(35.1,1022)" font-size="11.8" text-anchor="end" fill="#1a1a1a">ND</text>
<text transform="translate(34.5,1047.9)" font-size="11.8" text-anchor="end" fill="#1a1a1a">10</text>
<text transform="translate(34.5,1064.92)" font-size="11.8" text-anchor="end" fill="#1a1a1a">8</text>
<text transform="translate(34.5,1081.94)" font-size="11.8" text-anchor="end" fill="#1a1a1a">6</text>
<text transform="translate(34.5,1098.96)" font-size="11.8" text-anchor="end" fill="#1a1a1a">4</text>
<text transform="translate(34.5,1115.98)" font-size="11.8" text-anchor="end" fill="#1a1a1a">2</text>
<text transform="translate(34.5,1133)" font-size="11.8" text-anchor="end" fill="#1a1a1a">0</text>
<text transform="translate(51.75,1144.5)" font-size="11.8" text-anchor="middle" fill="#1a1a1a">0</text>
<text transform="translate(96,1144.5)" font-size="11.8" text-anchor="middle" fill="#1a1a1a">100</text>
<text transform="translate(140.25,1144.5)" font-size="11.8" text-anchor="middle" fill="#1a1a1a">200</text>
<text transform="translate(184.5,1144.5)" font-size="11.8" text-anchor="middle" fill="#1a1a1a">300</text>
<text transform="translate(228.75,1144.5)" font-size="11.8" text-anchor="middle" fill="#1a1a1a">400</text>
<text transform="translate(273,1144.5)" font-size="11.8" text-anchor="middle" fill="#1a1a1a">500</text>
<text transform="translate(317.25,1144.5)" font-size="11.8" text-anchor="middle" fill="#1a1a1a">600</text>
<text transform="translate(191.1,1159.3)" font-size="11.8" text-anchor="middle" fill="#1a1a1a">Time (days)</text>
<text transform="translate(13.2,953.2) rotate(-90)" font-size="11.8" text-anchor="middle" fill="#1a1a1a">ctDNA (MTM/ml)</text>
<text transform="translate(13.2,1083) rotate(-90)" font-size="11.8" text-anchor="middle" fill="#1a1a1a">Tumor volume (ml)</text>
<line x1="202.8" y1="1053.8" x2="212.9" y2="1053.8" stroke="#000" stroke-width="1.6" stroke-linecap="butt" stroke-dasharray="4,2.1"/>
<text transform="translate(216.6,1057.3)" font-size="11.8" text-anchor="start" fill="#1a1a1a">surgery</text>
<rect x="258.8" y="1049.5" width="8" height="7.8" fill="#d3d3d3"/>
<text transform="translate(270.2,1057.3)" font-size="11.8" text-anchor="start" fill="#1a1a1a">I2VA</text>
<rect x="299.2" y="1049.5" width="8" height="7.8" fill="#f1e6da"/>
<text transform="translate(310.4,1057.3)" font-size="11.8" text-anchor="start" fill="#1a1a1a">VA</text>
<text transform="translate(347.95,880.6)" font-size="23.2" text-anchor="start" fill="#000">H</text>
<text transform="translate(391.1,885.5)" font-size="19.3" text-anchor="start" fill="#000">C100</text>
<rect x="412.2" y="891.75" width="34.3" height="141.75" fill="#d3d3d3"/>
<rect x="412.2" y="1044" width="34.3" height="85.3" fill="#d3d3d3"/>
<rect x="446.5" y="891.75" width="41.25" height="141.75" fill="#f1e6da"/>
<rect x="446.5" y="1044" width="41.25" height="85.3" fill="#f1e6da"/>
<line x1="394.4" y1="999.3" x2="671.7" y2="999.3" stroke="#000" stroke-width="1.35" stroke-linecap="butt" stroke-dasharray="1.3,3.08"/>
<line x1="405.25" y1="891.75" x2="405.25" y2="1033.5" stroke="#000" stroke-width="1.6" stroke-linecap="butt" stroke-dasharray="3.9,3.1"/>
<line x1="405.25" y1="1044" x2="405.25" y2="1129.3" stroke="#000" stroke-width="1.6" stroke-linecap="butt" stroke-dasharray="3.9,3.1"/>
<path d="M390.6,891.75 V1033.5 H674.1" fill="none" stroke="#4c4c4c" stroke-width="1.0" stroke-linejoin="round"/>
<path d="M390.6,1044 V1129.3 H674.1" fill="none" stroke="#4c4c4c" stroke-width="1.0" stroke-linejoin="round"/>
<line x1="384.8" y1="891.75" x2="390.6" y2="891.75" stroke="#222222" stroke-width="1" stroke-linecap="butt"/>
<line x1="384.8" y1="927.5" x2="390.6" y2="927.5" stroke="#222222" stroke-width="1" stroke-linecap="butt"/>
<line x1="384.8" y1="963.25" x2="390.6" y2="963.25" stroke="#222222" stroke-width="1" stroke-linecap="butt"/>
<line x1="384.8" y1="999.3" x2="390.6" y2="999.3" stroke="#222222" stroke-width="1" stroke-linecap="butt"/>
<line x1="384.8" y1="1018" x2="390.6" y2="1018" stroke="#222222" stroke-width="1" stroke-linecap="butt"/>
<line x1="384.8" y1="1044" x2="390.6" y2="1044" stroke="#222222" stroke-width="1" stroke-linecap="butt"/>
<line x1="384.8" y1="1061.06" x2="390.6" y2="1061.06" stroke="#222222" stroke-width="1" stroke-linecap="butt"/>
<line x1="384.8" y1="1078.12" x2="390.6" y2="1078.12" stroke="#222222" stroke-width="1" stroke-linecap="butt"/>
<line x1="384.8" y1="1095.18" x2="390.6" y2="1095.18" stroke="#222222" stroke-width="1" stroke-linecap="butt"/>
<line x1="384.8" y1="1112.24" x2="390.6" y2="1112.24" stroke="#222222" stroke-width="1" stroke-linecap="butt"/>
<line x1="384.8" y1="1129.3" x2="390.6" y2="1129.3" stroke="#222222" stroke-width="1" stroke-linecap="butt"/>
<line x1="412.5" y1="1033.5" x2="412.5" y2="1039.1" stroke="#222222" stroke-width="1" stroke-linecap="butt"/>
<line x1="412.5" y1="1129.3" x2="412.5" y2="1134.9" stroke="#222222" stroke-width="1" stroke-linecap="butt"/>
<line x1="456.1" y1="1033.5" x2="456.1" y2="1039.1" stroke="#222222" stroke-width="1" stroke-linecap="butt"/>
<line x1="456.1" y1="1129.3" x2="456.1" y2="1134.9" stroke="#222222" stroke-width="1" stroke-linecap="butt"/>
<line x1="499.7" y1="1033.5" x2="499.7" y2="1039.1" stroke="#222222" stroke-width="1" stroke-linecap="butt"/>
<line x1="499.7" y1="1129.3" x2="499.7" y2="1134.9" stroke="#222222" stroke-width="1" stroke-linecap="butt"/>
<line x1="543.3" y1="1033.5" x2="543.3" y2="1039.1" stroke="#222222" stroke-width="1" stroke-linecap="butt"/>
<line x1="543.3" y1="1129.3" x2="543.3" y2="1134.9" stroke="#222222" stroke-width="1" stroke-linecap="butt"/>
<line x1="586.9" y1="1033.5" x2="586.9" y2="1039.1" stroke="#222222" stroke-width="1" stroke-linecap="butt"/>
<line x1="586.9" y1="1129.3" x2="586.9" y2="1134.9" stroke="#222222" stroke-width="1" stroke-linecap="butt"/>
<line x1="630.5" y1="1033.5" x2="630.5" y2="1039.1" stroke="#222222" stroke-width="1" stroke-linecap="butt"/>
<line x1="630.5" y1="1129.3" x2="630.5" y2="1134.9" stroke="#222222" stroke-width="1" stroke-linecap="butt"/>
<line x1="674.1" y1="1033.5" x2="674.1" y2="1039.1" stroke="#222222" stroke-width="1" stroke-linecap="butt"/>
<line x1="674.1" y1="1129.3" x2="674.1" y2="1134.9" stroke="#222222" stroke-width="1" stroke-linecap="butt"/>
<polyline points="412.5,1018 421.5,1018 430.75,1018 515.4,1018 542.9,1018 596.2,1018" fill="none" stroke="#000" stroke-width="1.1" stroke-linejoin="round"/>
<circle cx="412.5" cy="1018" r="2.3" fill="#000"/>
<circle cx="421.5" cy="1018" r="2" fill="#fff" stroke="#000" stroke-width="0.8"/>
<circle cx="430.75" cy="1018" r="2.3" fill="#000"/>
<circle cx="515.4" cy="1018" r="2.3" fill="#000"/>
<circle cx="542.9" cy="1018" r="2.3" fill="#000"/>
<circle cx="596.2" cy="1018" r="2.3" fill="#000"/>
<polyline points="397.5,1120.75 417,1129.25 444.5,1129.25 549.9,1129.25 603,1129.25 657,1129.25" fill="none" stroke="#000" stroke-width="1.1" stroke-linejoin="round"/>
<circle cx="397.5" cy="1120.75" r="2.3" fill="#000"/>
<circle cx="417" cy="1129.25" r="2.3" fill="#000"/>
<circle cx="444.5" cy="1129.25" r="2.3" fill="#000"/>
<circle cx="549.9" cy="1129.25" r="2.3" fill="#000"/>
<circle cx="603" cy="1129.25" r="2.3" fill="#000"/>
<circle cx="657" cy="1129.25" r="2.3" fill="#000"/>
<text transform="translate(383,893.35)" font-size="11.2" text-anchor="end" fill="#1a1a1a">10<tspan font-size="7.7" dx="0.7" dy="-3.4">3</tspan></text>
<text transform="translate(383,929.1)" font-size="11.2" text-anchor="end" fill="#1a1a1a">10<tspan font-size="7.7" dx="0.7" dy="-3.4">2</tspan></text>
<text transform="translate(383,964.85)" font-size="11.2" text-anchor="end" fill="#1a1a1a">10<tspan font-size="7.7" dx="0.7" dy="-3.4">1</tspan></text>
<text transform="translate(383,1000.9)" font-size="11.2" text-anchor="end" fill="#1a1a1a">10<tspan font-size="7.7" dx="0.7" dy="-3.4">0</tspan></text>
<text transform="translate(382.3,1022)" font-size="11.8" text-anchor="end" fill="#1a1a1a">ND</text>
<text transform="translate(381.9,1048)" font-size="11.8" text-anchor="end" fill="#1a1a1a">10</text>
<text transform="translate(381.9,1065.06)" font-size="11.8" text-anchor="end" fill="#1a1a1a">8</text>
<text transform="translate(381.9,1082.12)" font-size="11.8" text-anchor="end" fill="#1a1a1a">6</text>
<text transform="translate(381.9,1099.18)" font-size="11.8" text-anchor="end" fill="#1a1a1a">4</text>
<text transform="translate(381.9,1116.24)" font-size="11.8" text-anchor="end" fill="#1a1a1a">2</text>
<text transform="translate(381.9,1133.3)" font-size="11.8" text-anchor="end" fill="#1a1a1a">0</text>
<text transform="translate(412.5,1144.6)" font-size="11.8" text-anchor="middle" fill="#1a1a1a">0</text>
<text transform="translate(456.1,1144.6)" font-size="11.8" text-anchor="middle" fill="#1a1a1a">100</text>
<text transform="translate(499.7,1144.6)" font-size="11.8" text-anchor="middle" fill="#1a1a1a">200</text>
<text transform="translate(543.3,1144.6)" font-size="11.8" text-anchor="middle" fill="#1a1a1a">300</text>
<text transform="translate(586.9,1144.6)" font-size="11.8" text-anchor="middle" fill="#1a1a1a">400</text>
<text transform="translate(630.5,1144.6)" font-size="11.8" text-anchor="middle" fill="#1a1a1a">500</text>
<text transform="translate(674.1,1144.6)" font-size="11.8" text-anchor="middle" fill="#1a1a1a">600</text>
<text transform="translate(533.45,1159.3)" font-size="11.8" text-anchor="middle" fill="#1a1a1a">Time (days)</text>
<text transform="translate(358.8,953.2) rotate(-90)" font-size="11.8" text-anchor="middle" fill="#1a1a1a">ctDNA (MTM/ml)</text>
<text transform="translate(358.8,1083) rotate(-90)" font-size="11.8" text-anchor="middle" fill="#1a1a1a">Tumor volume (ml)</text>
<line x1="550.2" y1="1053.2" x2="560.3" y2="1053.2" stroke="#000" stroke-width="1.6" stroke-linecap="butt" stroke-dasharray="4,2.1"/>
<text transform="translate(563.4,1056.7)" font-size="11.8" text-anchor="start" fill="#1a1a1a">surgery</text>
<rect x="606.3" y="1048.9" width="7.9" height="7.8" fill="#d3d3d3"/>
<text transform="translate(617.4,1056.7)" font-size="11.8" text-anchor="start" fill="#1a1a1a">I2VA</text>
<rect x="646.7" y="1048.9" width="7.9" height="7.8" fill="#f1e6da"/>
<text transform="translate(657.8,1056.7)" font-size="11.8" text-anchor="start" fill="#1a1a1a">VA</text>
</svg>
</body></html>
